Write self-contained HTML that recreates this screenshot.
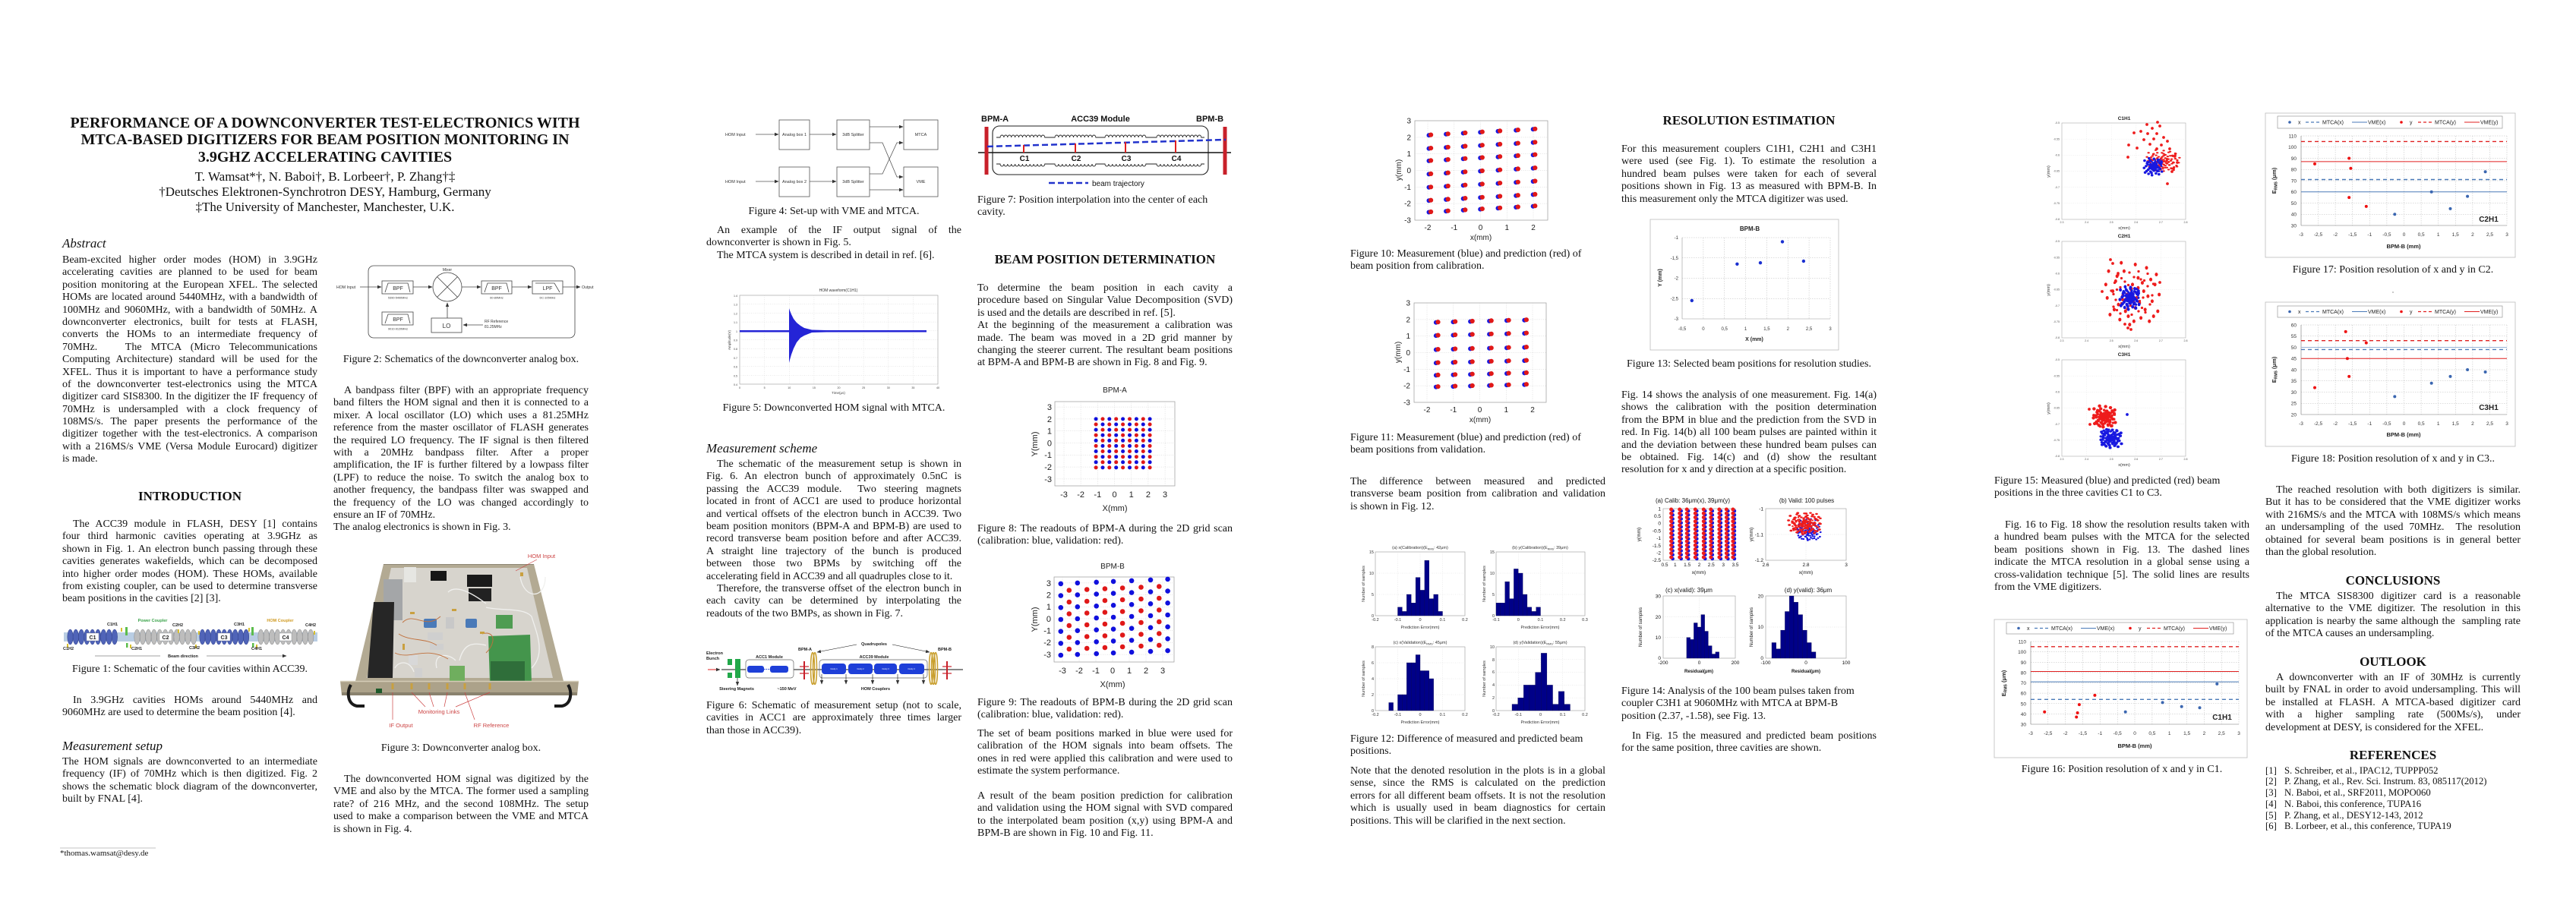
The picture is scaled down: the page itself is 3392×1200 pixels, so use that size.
<!DOCTYPE html>
<html><head><meta charset="utf-8">
<style>
html,body{margin:0;padding:0;background:#fff}
body{width:3392px;height:1200px;position:relative;overflow:hidden}
.pg{position:absolute;top:0;width:848px;height:1200px;overflow:hidden}
.pg>svg{position:absolute;left:0;top:0}
.t{position:absolute;width:336px;font-family:"Liberation Serif",serif;font-size:14px;line-height:16.4px;color:#111}
.t>div{height:16.4px;overflow:hidden;white-space:normal}
.j{text-align:justify;text-align-last:justify}
.i{text-indent:14px}
.c{text-align:center}
.h{position:absolute;width:336px;text-align:center;font:bold 17px/20px "Liberation Serif",serif;color:#111}
.s{position:absolute;font:italic 17px/20px "Liberation Serif",serif;color:#111}
svg text{font-family:"Liberation Sans",sans-serif}
</style></head><body>

<!-- ================= PAGE 1 ================= -->
<div class="pg" style="left:0">
<svg width="848" height="1200">
<defs><marker id="m1" markerWidth="6" markerHeight="6" refX="5" refY="3" orient="auto" markerUnits="userSpaceOnUse"><path d="M0,0.8 L5.5,3 L0,5.2z" fill="#333"/></marker></defs>
<!-- Fig 2 -->
<g fill="none" stroke="#444" stroke-width="0.8">
<rect x="485" y="350" width="272" height="95" rx="7"/>
<line x1="474" y1="378" x2="502" y2="378" marker-end="url(#m1)"/>
<rect x="503" y="370" width="41" height="17"/><path d="M507,385 L511,373 L537,373 L540,385"/>
<line x1="544" y1="378" x2="569" y2="378" marker-end="url(#m1)"/>
<circle cx="589" cy="378" r="19"/><path d="M575.6,364.6 L602.4,391.4 M602.4,364.6 L575.6,391.4"/>
<line x1="608" y1="378" x2="633" y2="378" marker-end="url(#m1)"/>
<rect x="634" y="370" width="40" height="17"/><path d="M638,385 L642,373 L667,373 L670,385"/>
<line x1="674" y1="378" x2="700" y2="378" marker-end="url(#m1)"/>
<rect x="701" y="370" width="40" height="17"/><path d="M705,373 L730,373 L737,385"/>
<line x1="741" y1="378" x2="764" y2="378" marker-end="url(#m1)"/>
<rect x="503" y="411" width="41" height="17"/><path d="M507,426 L511,414 L537,414 L540,426"/>
<rect x="568" y="419" width="40" height="19"/>
<line x1="589" y1="419" x2="589" y2="399" marker-end="url(#m1)"/>
<line x1="636" y1="428" x2="610" y2="428" marker-end="url(#m1)"/>
</g>
<g fill="#333">
<text x="443" y="380" font-size="5.2">HOM Input</text>
<text x="524" y="382" font-size="7" text-anchor="middle">BPF</text>
<text x="524" y="393.5" font-size="3.8" text-anchor="middle">5390-5490MHz</text>
<text x="589" y="357" font-size="5" text-anchor="middle">Mixer</text>
<text x="654" y="382" font-size="7" text-anchor="middle">BPF</text>
<text x="654" y="393.5" font-size="3.8" text-anchor="middle">60-80MHz</text>
<text x="721" y="382" font-size="7" text-anchor="middle">LPF</text>
<text x="721" y="393.5" font-size="3.8" text-anchor="middle">DC-105MHz</text>
<text x="766" y="380" font-size="5.2">Output</text>
<text x="524" y="423" font-size="7" text-anchor="middle">BPF</text>
<text x="524" y="434.5" font-size="3.8" text-anchor="middle">9010-9120MHz</text>
<text x="588" y="432" font-size="8" text-anchor="middle">LO</text>
<text x="638" y="425" font-size="5">RF Reference</text>
<text x="638" y="432" font-size="5">81.25MHz</text>
</g>
<!-- Fig 1 -->
<rect x="84" y="833" width="334" height="12" fill="#b9cde3"/>
<g fill="#5064b8" stroke="#31418c" stroke-width="0.5">
<ellipse cx="92.5" cy="839" rx="3.7" ry="10"/><ellipse cx="99.8" cy="839" rx="3.7" ry="10"/><ellipse cx="107.1" cy="839" rx="3.7" ry="10"/><ellipse cx="114.4" cy="839" rx="3.7" ry="10"/><ellipse cx="121.7" cy="839" rx="3.7" ry="10"/><ellipse cx="129" cy="839" rx="3.7" ry="10"/><ellipse cx="136.3" cy="839" rx="3.7" ry="10"/><ellipse cx="143.6" cy="839" rx="3.7" ry="10"/><ellipse cx="150.9" cy="839" rx="3.7" ry="10"/>
<ellipse cx="266.5" cy="839" rx="3.7" ry="10"/><ellipse cx="273.7" cy="839" rx="3.7" ry="10"/><ellipse cx="280.9" cy="839" rx="3.7" ry="10"/><ellipse cx="288.1" cy="839" rx="3.7" ry="10"/><ellipse cx="295.3" cy="839" rx="3.7" ry="10"/><ellipse cx="302.5" cy="839" rx="3.7" ry="10"/><ellipse cx="309.7" cy="839" rx="3.7" ry="10"/><ellipse cx="316.9" cy="839" rx="3.7" ry="10"/><ellipse cx="324.1" cy="839" rx="3.7" ry="10"/>
</g>
<g fill="#bdbdbd" stroke="#8a8a8a" stroke-width="0.5">
<ellipse cx="180.5" cy="839" rx="3.7" ry="10"/><ellipse cx="187.9" cy="839" rx="3.7" ry="10"/><ellipse cx="195.4" cy="839" rx="3.7" ry="10"/><ellipse cx="202.8" cy="839" rx="3.7" ry="10"/><ellipse cx="210.3" cy="839" rx="3.7" ry="10"/><ellipse cx="217.7" cy="839" rx="3.7" ry="10"/><ellipse cx="225.2" cy="839" rx="3.7" ry="10"/><ellipse cx="232.6" cy="839" rx="3.7" ry="10"/><ellipse cx="240.1" cy="839" rx="3.7" ry="10"/><ellipse cx="247.5" cy="839" rx="3.7" ry="10"/><ellipse cx="255" cy="839" rx="3.7" ry="10"/>
<ellipse cx="343.5" cy="839" rx="3.7" ry="10"/><ellipse cx="350.8" cy="839" rx="3.7" ry="10"/><ellipse cx="358.1" cy="839" rx="3.7" ry="10"/><ellipse cx="365.4" cy="839" rx="3.7" ry="10"/><ellipse cx="372.7" cy="839" rx="3.7" ry="10"/><ellipse cx="380" cy="839" rx="3.7" ry="10"/><ellipse cx="387.3" cy="839" rx="3.7" ry="10"/><ellipse cx="394.6" cy="839" rx="3.7" ry="10"/><ellipse cx="401.9" cy="839" rx="3.7" ry="10"/><ellipse cx="409.2" cy="839" rx="3.7" ry="10"/>
</g>
<g fill="#fff" stroke="#777" stroke-width="0.3">
<rect x="114" y="834" width="16" height="10"/><rect x="210" y="834" width="16" height="10"/><rect x="287" y="834" width="16" height="10"/><rect x="368" y="834" width="16" height="10"/>
</g>
<g font-weight="bold" font-size="7" text-anchor="middle" fill="#222">
<text x="122" y="842" font-family="Liberation Serif">C1</text><text x="218" y="842" font-family="Liberation Serif">C2</text><text x="295" y="842" font-family="Liberation Serif">C3</text><text x="376" y="842" font-family="Liberation Serif">C4</text>
</g>
<g fill="#5cbd4c"><rect x="165" y="826" width="3" height="11"/><rect x="166" y="847" width="2.5" height="6"/><rect x="331" y="826" width="3" height="11"/><rect x="332" y="847" width="2.5" height="6"/></g>
<g fill="#d8c030"><rect x="159" y="827" width="2" height="5"/><rect x="171" y="849" width="2" height="5"/><rect x="261" y="831" width="2" height="5"/><rect x="257" y="849" width="2" height="5"/><rect x="327" y="827" width="2" height="5"/><rect x="337" y="849" width="2" height="5"/><rect x="413" y="831" width="2" height="5"/><rect x="88" y="848" width="2" height="5"/><rect x="234" y="829" width="2" height="5"/></g>
<g font-size="5.5" font-weight="bold" text-anchor="middle" fill="#222">
<text x="148" y="824" font-family="Liberation Serif">C1H1</text>
<text x="201" y="819" font-family="Liberation Serif" fill="#3ba34a">Power Coupler</text>
<text x="234" y="825" font-family="Liberation Serif">C2H2</text>
<text x="315" y="824" font-family="Liberation Serif">C3H1</text>
<text x="369" y="819" font-family="Liberation Serif" fill="#d09a20">HOM Coupler</text>
<text x="409" y="825" font-family="Liberation Serif">C4H2</text>
<text x="90" y="856" font-family="Liberation Serif">C1H2</text>
<text x="180" y="856" font-family="Liberation Serif">C2H1</text>
<text x="256" y="855" font-family="Liberation Serif">C3H2</text>
<text x="338" y="856" font-family="Liberation Serif">C4H1</text>
<text x="241" y="866" font-family="Liberation Serif">Beam direction</text>
</g>
<line x1="125" y1="864" x2="211" y2="864" stroke="#444" stroke-width="0.6"/>
<line x1="272" y1="864" x2="377" y2="864" stroke="#444" stroke-width="0.6" marker-end="url(#m1)"/>
<!-- Fig 3 photo -->
<polygon points="505,743 703,743 742,897 468,897" fill="#b3aa93"/>
<polygon points="515,748 694,748 728,893 483,893" fill="#d7d4cd"/>
<line x1="505" y1="743.5" x2="703" y2="743.5" stroke="#8d8673" stroke-width="1"/>
<rect x="505" y="763" width="25" height="54" fill="#a4a6a8"/>
<polygon points="492,793 519,793 517,893 484,893" fill="#262626"/>
<rect x="532" y="747" width="16" height="20" fill="#e6e6e2"/>
<rect x="567" y="752" width="21" height="13" fill="#161616"/>
<rect x="615" y="757" width="33" height="16" fill="#1a1a1a"/>
<rect x="617" y="775" width="30" height="17" fill="#222"/>
<rect x="558" y="815" width="17" height="12" rx="2" fill="#4a7ab8"/>
<rect x="613" y="815" width="15" height="12" rx="2" fill="#4a7ab8"/>
<rect x="587" y="813" width="11" height="15" fill="#c8c8c8"/>
<rect x="563" y="833" width="20" height="10" fill="#cfcfcf"/>
<rect x="566" y="848" width="18" height="8" fill="#cfcfcf"/>
<rect x="538" y="862" width="12" height="14" fill="#d8d8d8"/>
<rect x="546" y="880" width="10" height="12" fill="#d0d0d0"/>
<polygon points="643,838 698,836 700,900 645,900" fill="#44954c"/>
<rect x="646" y="871" width="45" height="27" fill="#2f6e3a"/>
<rect x="653" y="810" width="22" height="18" fill="#4f9c52"/>
<rect x="592" y="877" width="20" height="20" fill="#6fae5e"/>
<g fill="none" stroke="#f0f0ee" stroke-width="1.3">
<path d="M685,760 C690,790 718,790 718,760"/>
<path d="M590,780 C600,770 620,780 640,795"/>
<path d="M640,800 C660,805 690,800 700,812 C705,830 720,860 700,880"/>
<path d="M520,880 C525,870 540,870 545,885"/>
<path d="M575,880 C570,860 590,860 600,870"/>
<path d="M605,870 C610,850 620,845 640,850"/>
</g>
<g fill="none" stroke="#c0703c" stroke-width="0.9">
<path d="M530,820 C545,805 560,830 580,812"/>
<path d="M520,860 C540,870 560,850 590,868"/>
<path d="M525,835 C540,845 560,840 575,850"/>
<path d="M635,835 C650,830 655,845 640,860"/>
</g>
<g fill="#c9a040"><rect x="540" y="806" width="6" height="3"/><rect x="595" y="802" width="6" height="3"/><rect x="632" y="832" width="6" height="3"/><rect x="530" y="848" width="3" height="8"/><rect x="685" y="754" width="4" height="5"/></g>
<polygon points="448,897 762,897 760,916 450,916" fill="#aca28a"/>
<line x1="448" y1="897.5" x2="762" y2="897.5" stroke="#d4ccb6" stroke-width="1.5"/>
<rect x="450" y="912" width="310" height="4" fill="#8a826e"/>
<g fill="#c9a040"><rect x="515.5" y="900" width="3" height="8"/><rect x="540.5" y="900" width="3" height="8"/><rect x="563.5" y="900" width="3" height="8"/><rect x="587.5" y="900" width="3" height="8"/><rect x="610.5" y="900" width="3" height="8"/><rect x="643.5" y="900" width="3" height="8"/></g>
<rect x="495" y="907" width="8" height="6" fill="#1d5a2a"/>
<path d="M462,902 C456,912 458,928 470,930 L480,930" stroke="#1a1a1a" stroke-width="4" fill="none"/>
<path d="M748,902 C754,912 752,928 740,930 L730,930" stroke="#1a1a1a" stroke-width="4" fill="none"/>
<g stroke="#c44" stroke-width="0.7">
<line x1="707" y1="737" x2="679" y2="752"/>
<line x1="542" y1="912" x2="560" y2="931"/><line x1="565" y1="912" x2="571" y2="931"/><line x1="589" y1="912" x2="585" y2="931"/><line x1="645" y1="912" x2="600" y2="931"/>
<line x1="517" y1="912" x2="517" y2="948"/><line x1="612" y1="912" x2="625" y2="948"/>
</g>
<g fill="#c44" font-size="7.5">
<text x="713" y="735" text-anchor="middle">HOM Input</text>
<text x="578" y="940" text-anchor="middle">Monitoring Links</text>
<text x="528" y="958" text-anchor="middle">IF Output</text>
<text x="647" y="958" text-anchor="middle">RF Reference</text>
</g>
<line x1="79" y1="1117" x2="205" y2="1117" stroke="#888" stroke-width="0.6"/>
</svg>

<div style="position:absolute;left:0;top:150.5px;width:856px;text-align:center;font:bold 20px/22.5px 'Liberation Serif',serif;color:#111">PERFORMANCE OF A DOWNCONVERTER TEST-ELECTRONICS WITH<br>MTCA-BASED DIGITIZERS FOR BEAM POSITION MONITORING IN<br>3.9GHZ ACCELERATING CAVITIES</div>
<div style="position:absolute;left:0;top:223px;width:856px;text-align:center;font:17px/20px 'Liberation Serif',serif;color:#111">T. Wamsat*†, N. Baboi†, B. Lorbeer†, P. Zhang†‡<br>†Deutsches Elektronen-Synchrotron DESY, Hamburg, Germany<br>‡The University of Manchester, Manchester, U.K.</div>

<div class="s" style="left:82px;top:311px">Abstract</div>
<div class="t" style="left:82px;top:335px">
<div class="j">Beam-excited higher order modes (HOM) in 3.9GHz</div>
<div class="j">accelerating cavities are planned to be used for beam</div>
<div class="j">position monitoring at the European XFEL. The selected</div>
<div class="j">HOMs are located around 5440MHz, with a bandwidth of</div>
<div class="j">100MHz and 9060MHz, with a bandwidth of 50MHz. A</div>
<div class="j">downconverter electronics, built for tests at FLASH,</div>
<div class="j">converts the HOMs to an intermediate frequency of</div>
<div class="j">70MHz.&nbsp;&nbsp; The MTCA (Micro Telecommunications</div>
<div class="j">Computing Architecture) standard will be used for the</div>
<div class="j">XFEL. Thus it is important to have a performance study</div>
<div class="j">of the downconverter test-electronics using the MTCA</div>
<div class="j">digitizer card SIS8300. In the digitizer the IF frequency of</div>
<div class="j">70MHz is undersampled with a clock frequency of</div>
<div class="j">108MS/s. The paper presents the performance of the</div>
<div class="j">digitizer together with the test-electronics. A comparison</div>
<div class="j">with a 216MS/s VME (Versa Module Eurocard) digitizer</div>
<div>is made.</div>
</div>
<div class="h" style="left:82px;top:644px">INTRODUCTION</div>
<div class="t" style="left:82px;top:683px">
<div class="j i">The ACC39 module in FLASH, DESY [1] contains</div>
<div class="j">four third harmonic cavities operating at 3.9GHz as</div>
<div class="j">shown in Fig. 1. An electron bunch passing through these</div>
<div class="j">cavities generates wakefields, which can be decomposed</div>
<div class="j">into higher order modes (HOM). These HOMs, available</div>
<div class="j">from existing coupler, can be used to determine transverse</div>
<div>beam positions in the cavities [2] [3].</div>
</div>
<div class="t c" style="left:82px;top:874px"><div>Figure 1: Schematic of the four cavities within ACC39.</div></div>
<div class="t" style="left:82px;top:915px">
<div class="j i">In 3.9GHz cavities HOMs around 5440MHz and</div>
<div>9060MHz are used to determine the beam position [4].</div>
</div>
<div class="s" style="left:82px;top:973px">Measurement setup</div>
<div class="t" style="left:82px;top:996px">
<div class="j">The HOM signals are downconverted to an intermediate</div>
<div class="j">frequency (IF) of 70MHz which is then digitized. Fig. 2</div>
<div class="j">shows the schematic block diagram of the downconverter,</div>
<div>built by FNAL [4].</div>
</div>
<div style="position:absolute;left:79px;top:1117px;font:11px/14px 'Liberation Serif',serif;color:#111">*thomas.wamsat@desy.de</div>

<div class="t c" style="left:439px;top:466px"><div>Figure 2: Schematics of the downconverter analog box.</div></div>
<div class="t" style="left:439px;top:507px">
<div class="j i">A bandpass filter (BPF) with an appropriate frequency</div>
<div class="j">band filters the HOM signal and then it is connected to a</div>
<div class="j">mixer. A local oscillator (LO) which uses a 81.25MHz</div>
<div class="j">reference from the master oscillator of FLASH generates</div>
<div class="j">the required LO frequency. The IF signal is then filtered</div>
<div class="j">with a 20MHz bandpass filter. After a proper</div>
<div class="j">amplification, the IF is further filtered by a lowpass filter</div>
<div class="j">(LPF) to reduce the noise. To switch the analog box to</div>
<div class="j">another frequency, the bandpass filter was swapped and</div>
<div class="j">the frequency of the LO was changed accordingly to</div>
<div>ensure an IF of 70MHz.</div>
<div>The analog electronics is shown in Fig. 3.</div>
</div>
<div class="t c" style="left:439px;top:978px"><div>Figure 3: Downconverter analog box.</div></div>
<div class="t" style="left:439px;top:1019px">
<div class="j i">The downconverted HOM signal was digitized by the</div>
<div class="j">VME and also by the MTCA. The former used a sampling</div>
<div class="j">rate? of 216 MHz, and the second 108MHz. The setup</div>
<div class="j">used to make a comparison between the VME and MTCA</div>
<div>is shown in Fig. 4.</div>
</div>
</div>

<!-- ================= PAGE 2 ================= -->
<div class="pg" style="left:848px">
<svg width="848" height="1200">
<defs><marker id="m2" markerWidth="6" markerHeight="6" refX="5" refY="3" orient="auto" markerUnits="userSpaceOnUse"><path d="M0,0.8 L5.5,3 L0,5.2z" fill="#333"/></marker></defs>
<!-- Fig 4 -->
<g fill="none" stroke="#555" stroke-width="0.8">
<rect x="178" y="158" width="40" height="39"/><rect x="254" y="158" width="43" height="39"/><rect x="342" y="158" width="45" height="39"/>
<rect x="178" y="220" width="40" height="39"/><rect x="254" y="220" width="43" height="39"/><rect x="342" y="220" width="45" height="39"/>
<line x1="147" y1="177" x2="177" y2="177" marker-end="url(#m2)"/>
<line x1="147" y1="239" x2="177" y2="239" marker-end="url(#m2)"/>
<line x1="218" y1="177" x2="253" y2="177" marker-end="url(#m2)"/>
<line x1="218" y1="239" x2="253" y2="239" marker-end="url(#m2)"/>
<line x1="297" y1="167" x2="341" y2="167" marker-end="url(#m2)"/>
<polyline points="297,188 314,188 333,233 341,233" marker-end="url(#m2)"/>
<polyline points="297,229 314,229 333,188 341,188" marker-end="url(#m2)"/>
<line x1="297" y1="250" x2="341" y2="250" marker-end="url(#m2)"/>
</g>
<g font-size="5.5" fill="#333">
<text x="107" y="179">HOM Input</text><text x="107" y="241">HOM Input</text>
<text x="198" y="179" text-anchor="middle">Analog box 1</text><text x="198" y="241" text-anchor="middle">Analog box 2</text>
<text x="275.5" y="179" text-anchor="middle">3dB Splitter</text><text x="275.5" y="241" text-anchor="middle">3dB Splitter</text>
<text x="364.5" y="179" text-anchor="middle">MTCA</text><text x="364.5" y="241" text-anchor="middle">VME</text>
</g>
<!-- Fig 5 -->
<text x="256" y="384" font-size="5" text-anchor="middle" fill="#333">HOM waveform(C1H1)</text>
<rect x="126" y="389" width="261" height="117" fill="#fff" stroke="#999" stroke-width="0.6"/>
<g stroke="#ccc" stroke-width="0.4" stroke-dasharray="1,1.5">
<line x1="158.6" y1="389" x2="158.6" y2="506"/><line x1="191.3" y1="389" x2="191.3" y2="506"/><line x1="223.9" y1="389" x2="223.9" y2="506"/><line x1="256.5" y1="389" x2="256.5" y2="506"/><line x1="289.1" y1="389" x2="289.1" y2="506"/><line x1="321.8" y1="389" x2="321.8" y2="506"/><line x1="354.4" y1="389" x2="354.4" y2="506"/>
<line x1="126" y1="400.7" x2="387" y2="400.7"/><line x1="126" y1="412.4" x2="387" y2="412.4"/><line x1="126" y1="424.1" x2="387" y2="424.1"/><line x1="126" y1="435.8" x2="387" y2="435.8"/><line x1="126" y1="447.5" x2="387" y2="447.5"/><line x1="126" y1="459.2" x2="387" y2="459.2"/><line x1="126" y1="470.9" x2="387" y2="470.9"/><line x1="126" y1="482.6" x2="387" y2="482.6"/><line x1="126" y1="494.3" x2="387" y2="494.3"/>
</g>
<polygon points="126,435 191,435 191,406 192,409 194,414 197,420 201,425 206,429 211,432 221,434.5 240,435 372,435 372,437.5 240,437.5 221,438 211,442 206,445 201,451 197,459 194,467 192,474 191,478 191,437.5 126,437.5" fill="#2424d6"/>
<g font-size="3.6" fill="#444" text-anchor="end">
<text x="123" y="391">1.4</text><text x="123" y="402.7">1.3</text><text x="123" y="414.4">1.2</text><text x="123" y="426.1">1.1</text><text x="123" y="437.8">1</text><text x="123" y="449.5">0.9</text><text x="123" y="461.2">0.8</text><text x="123" y="472.9">0.7</text><text x="123" y="484.6">0.6</text><text x="123" y="496.3">0.5</text><text x="123" y="508">0.4</text>
</g>
<g font-size="3.6" fill="#444" text-anchor="middle">
<text x="126" y="512">0</text><text x="158.6" y="512">5</text><text x="191.3" y="512">10</text><text x="223.9" y="512">15</text><text x="256.5" y="512">20</text><text x="289.1" y="512">25</text><text x="321.8" y="512">30</text><text x="354.4" y="512">35</text><text x="387" y="512">40</text>
<text x="256" y="519" font-size="4.5">Time(μs)</text>
</g>
<text transform="translate(114,448) rotate(-90)" font-size="4.5" fill="#444" text-anchor="middle">Amplitude(V)</text>
<!-- Fig 6 -->
<line x1="102" y1="882" x2="420" y2="882" stroke="#111" stroke-width="1"/>
<line x1="84" y1="882" x2="100" y2="882" stroke="#e02020" stroke-width="1" marker-end="url(#m2)"/>
<g fill="#22a84a"><rect x="110" y="868" width="6" height="8"/><rect x="110" y="886" width="6" height="7"/><rect x="120" y="868" width="7" height="25"/></g>
<line x1="123" y1="893" x2="123" y2="903" stroke="#111" stroke-width="0.7" marker-end="url(#m2)"/>
<rect x="134" y="869" width="63" height="24" rx="4" fill="#fff" stroke="#666" stroke-width="0.7"/>
<g fill="#1e3fd8"><rect x="136" y="877" width="22" height="9" rx="3"/><rect x="166" y="877" width="24" height="9" rx="3"/>
<rect x="234" y="874" width="32" height="14" rx="4"/><rect x="269" y="874" width="32" height="14" rx="4"/><rect x="303" y="874" width="30" height="14" rx="4"/><rect x="336" y="874" width="33" height="14" rx="4"/></g>
<line x1="158" y1="881.5" x2="166" y2="881.5" stroke="#1e3fd8" stroke-dasharray="1.5,1"/>
<rect x="231" y="869" width="142" height="24" rx="4" fill="none" stroke="#666" stroke-width="0.7"/>
<g stroke="#c8202a" stroke-width="2"><line x1="211" y1="871" x2="211" y2="895"/><line x1="399" y1="871" x2="399" y2="895"/></g>
<g stroke="#c8202a" stroke-width="1.2"><line x1="205" y1="878" x2="217" y2="878"/><line x1="205" y1="887" x2="217" y2="887"/><line x1="393" y1="878" x2="405" y2="878"/><line x1="393" y1="887" x2="405" y2="887"/></g>
<g fill="none" stroke="#c9a030" stroke-width="1.5"><ellipse cx="222" cy="880.5" rx="2.5" ry="21"/><ellipse cx="225" cy="880.5" rx="2.5" ry="21"/><ellipse cx="378" cy="880.5" rx="2.5" ry="21"/><ellipse cx="381" cy="880.5" rx="2.5" ry="21"/><ellipse cx="384" cy="880.5" rx="2.5" ry="21"/></g>
<g stroke="#111" stroke-width="0.6"><line x1="234" y1="888" x2="234" y2="901" marker-end="url(#m2)"/><line x1="266" y1="888" x2="266" y2="901" marker-end="url(#m2)"/><line x1="301" y1="888" x2="301" y2="901" marker-end="url(#m2)"/><line x1="334" y1="888" x2="334" y2="901" marker-end="url(#m2)"/><line x1="368" y1="888" x2="368" y2="901" marker-end="url(#m2)"/>
<line x1="280" y1="849" x2="228" y2="859" marker-end="url(#m2)"/><line x1="327" y1="849" x2="376" y2="859" marker-end="url(#m2)"/></g>
<g font-size="5.5" font-weight="bold" fill="#222">
<text x="82" y="862">Electron</text><text x="82" y="869">Bunch</text>
<text x="165" y="867" text-anchor="middle">ACC1 Module</text>
<text x="212" y="857" text-anchor="middle">BPM-A</text>
<text x="303" y="867" text-anchor="middle">ACC39 Module</text>
<text x="303" y="850" text-anchor="middle">Quadrupoles</text>
<text x="396" y="857" text-anchor="middle">BPM-B</text>
<text x="122" y="909" text-anchor="middle">Steering Magnets</text>
<text x="188" y="909" text-anchor="middle">~150 MeV</text>
<text x="305" y="909" text-anchor="middle">HOM Couplers</text>
</g>
<g font-size="2.6" fill="#fff" text-anchor="middle"><text x="250" y="882">Cavity 1</text><text x="285" y="882">Cavity 2</text><text x="318" y="882">Cavity 3</text><text x="352" y="882">Cavity 4</text></g>
<!-- Fig 7 -->
<g font-size="11" font-weight="bold" fill="#111">
<text x="444" y="160">BPM-A</text><text x="601" y="160" text-anchor="middle">ACC39 Module</text><text x="727" y="160">BPM-B</text>
</g>
<rect x="459" y="166" width="284" height="64" rx="9" fill="none" stroke="#222" stroke-width="1.1"/>
<line x1="440" y1="201" x2="773" y2="201" stroke="#111" stroke-width="1.5"/>
<g fill="#c8202a"><rect x="448.5" y="167" width="5" height="63"/><rect x="762.5" y="167" width="5" height="63"/></g>
<path fill="none" stroke="#222" stroke-width="0.9" d="M464,181 L469,181 a2.45,3 0 0 1 4.9,0 a2.45,3 0 0 1 4.9,0 a2.45,3 0 0 1 4.9,0 a2.45,3 0 0 1 4.9,0 a2.45,3 0 0 1 4.9,0 a2.45,3 0 0 1 4.9,0 a2.45,3 0 0 1 4.9,0 a2.45,3 0 0 1 4.9,0 a2.45,3 0 0 1 4.9,0 a2.45,3 0 0 1 4.9,0 a2.45,3 0 0 1 4.9,0 a2.45,3 0 0 1 4.9,0 L541,181 a2.45,3 0 0 1 4.9,0 a2.45,3 0 0 1 4.9,0 a2.45,3 0 0 1 4.9,0 a2.45,3 0 0 1 4.9,0 a2.45,3 0 0 1 4.9,0 a2.45,3 0 0 1 4.9,0 a2.45,3 0 0 1 4.9,0 a2.45,3 0 0 1 4.9,0 a2.45,3 0 0 1 4.9,0 a2.45,3 0 0 1 4.9,0 a2.45,3 0 0 1 4.9,0 L607,181 a2.45,3 0 0 1 4.9,0 a2.45,3 0 0 1 4.9,0 a2.45,3 0 0 1 4.9,0 a2.45,3 0 0 1 4.9,0 a2.45,3 0 0 1 4.9,0 a2.45,3 0 0 1 4.9,0 a2.45,3 0 0 1 4.9,0 a2.45,3 0 0 1 4.9,0 a2.45,3 0 0 1 4.9,0 a2.45,3 0 0 1 4.9,0 a2.45,3 0 0 1 4.9,0 L675,181 a2.45,3 0 0 1 4.9,0 a2.45,3 0 0 1 4.9,0 a2.45,3 0 0 1 4.9,0 a2.45,3 0 0 1 4.9,0 a2.45,3 0 0 1 4.9,0 a2.45,3 0 0 1 4.9,0 a2.45,3 0 0 1 4.9,0 a2.45,3 0 0 1 4.9,0 a2.45,3 0 0 1 4.9,0 a2.45,3 0 0 1 4.9,0 a2.45,3 0 0 1 4.9,0 a2.45,3 0 0 1 4.9,0 L738,181"/>
<path fill="none" stroke="#222" stroke-width="0.9" d="M464,216 L469,216 a2.45,3 0 0 0 4.9,0 a2.45,3 0 0 0 4.9,0 a2.45,3 0 0 0 4.9,0 a2.45,3 0 0 0 4.9,0 a2.45,3 0 0 0 4.9,0 a2.45,3 0 0 0 4.9,0 a2.45,3 0 0 0 4.9,0 a2.45,3 0 0 0 4.9,0 a2.45,3 0 0 0 4.9,0 a2.45,3 0 0 0 4.9,0 a2.45,3 0 0 0 4.9,0 a2.45,3 0 0 0 4.9,0 L541,216 a2.45,3 0 0 0 4.9,0 a2.45,3 0 0 0 4.9,0 a2.45,3 0 0 0 4.9,0 a2.45,3 0 0 0 4.9,0 a2.45,3 0 0 0 4.9,0 a2.45,3 0 0 0 4.9,0 a2.45,3 0 0 0 4.9,0 a2.45,3 0 0 0 4.9,0 a2.45,3 0 0 0 4.9,0 a2.45,3 0 0 0 4.9,0 a2.45,3 0 0 0 4.9,0 L607,216 a2.45,3 0 0 0 4.9,0 a2.45,3 0 0 0 4.9,0 a2.45,3 0 0 0 4.9,0 a2.45,3 0 0 0 4.9,0 a2.45,3 0 0 0 4.9,0 a2.45,3 0 0 0 4.9,0 a2.45,3 0 0 0 4.9,0 a2.45,3 0 0 0 4.9,0 a2.45,3 0 0 0 4.9,0 a2.45,3 0 0 0 4.9,0 a2.45,3 0 0 0 4.9,0 L675,216 a2.45,3 0 0 0 4.9,0 a2.45,3 0 0 0 4.9,0 a2.45,3 0 0 0 4.9,0 a2.45,3 0 0 0 4.9,0 a2.45,3 0 0 0 4.9,0 a2.45,3 0 0 0 4.9,0 a2.45,3 0 0 0 4.9,0 a2.45,3 0 0 0 4.9,0 a2.45,3 0 0 0 4.9,0 a2.45,3 0 0 0 4.9,0 a2.45,3 0 0 0 4.9,0 a2.45,3 0 0 0 4.9,0 L738,216"/>
<line x1="452" y1="193" x2="766" y2="184" stroke="#2233cc" stroke-width="2.5" stroke-dasharray="8,4"/>
<g stroke="#e02020" stroke-width="2"><line x1="500" y1="191" x2="500" y2="201"/><line x1="568" y1="189" x2="568" y2="201"/><line x1="634" y1="187" x2="634" y2="201"/><line x1="700" y1="185" x2="700" y2="201"/></g>
<g font-size="10" font-weight="bold" fill="#111" text-anchor="middle"><text x="501" y="212">C1</text><text x="569" y="212">C2</text><text x="635" y="212">C3</text><text x="701" y="212">C4</text></g>
<line x1="533" y1="241" x2="585" y2="241" stroke="#2233cc" stroke-width="2.5" stroke-dasharray="8,4"/>
<text x="590" y="245" font-size="10" fill="#111">beam trajectory</text>
<!-- Fig 8 -->
<defs>
<g id="c8a"><circle cx="0" cy="551.9" r="2.5" fill="#1010dd"/><circle cx="0" cy="559" r="2.5" fill="#e01818"/><circle cx="0" cy="566.1" r="2.5" fill="#1010dd"/><circle cx="0" cy="573.2" r="2.5" fill="#e01818"/><circle cx="0" cy="580.3" r="2.5" fill="#1010dd"/><circle cx="0" cy="587.4" r="2.5" fill="#e01818"/><circle cx="0" cy="594.5" r="2.5" fill="#1010dd"/><circle cx="0" cy="601.7" r="2.5" fill="#e01818"/><circle cx="0" cy="608.8" r="2.5" fill="#1010dd"/><circle cx="0" cy="615.9" r="2.5" fill="#e01818"/></g>
<g id="c8b"><circle cx="0" cy="551.9" r="2.5" fill="#e01818"/><circle cx="0" cy="559" r="2.5" fill="#1010dd"/><circle cx="0" cy="566.1" r="2.5" fill="#e01818"/><circle cx="0" cy="573.2" r="2.5" fill="#1010dd"/><circle cx="0" cy="580.3" r="2.5" fill="#e01818"/><circle cx="0" cy="587.4" r="2.5" fill="#1010dd"/><circle cx="0" cy="594.5" r="2.5" fill="#e01818"/><circle cx="0" cy="601.7" r="2.5" fill="#1010dd"/><circle cx="0" cy="608.8" r="2.5" fill="#e01818"/><circle cx="0" cy="615.9" r="2.5" fill="#1010dd"/></g>
<g id="c9b"><circle cx="0" cy="767.9" r="3.3" fill="#1010dd"/><circle cx="0" cy="783.6" r="3.3" fill="#1010dd"/><circle cx="0" cy="799.3" r="3.3" fill="#1010dd"/><circle cx="0" cy="815" r="3.3" fill="#1010dd"/><circle cx="0" cy="830.7" r="3.3" fill="#1010dd"/><circle cx="0" cy="846.4" r="3.3" fill="#1010dd"/><circle cx="0" cy="862.1" r="3.3" fill="#1010dd"/></g>
<g id="c9r"><circle cx="0" cy="776.5" r="3.3" fill="#e01818"/><circle cx="0" cy="792" r="3.3" fill="#e01818"/><circle cx="0" cy="807.5" r="3.3" fill="#e01818"/><circle cx="0" cy="823" r="3.3" fill="#e01818"/><circle cx="0" cy="838.5" r="3.3" fill="#e01818"/><circle cx="0" cy="854" r="3.3" fill="#e01818"/></g>
</defs>
<text x="620" y="517" font-size="10" fill="#222" text-anchor="middle">BPM-A</text>
<rect x="541" y="529" width="158" height="111" fill="#fff" stroke="#999" stroke-width="0.7"/>
<g stroke="#ccc" stroke-width="0.5" stroke-dasharray="1,1.5">
<line x1="553" y1="529" x2="553" y2="640"/><line x1="575.1" y1="529" x2="575.1" y2="640"/><line x1="597.3" y1="529" x2="597.3" y2="640"/><line x1="619.5" y1="529" x2="619.5" y2="640"/><line x1="641.7" y1="529" x2="641.7" y2="640"/><line x1="663.9" y1="529" x2="663.9" y2="640"/><line x1="686.1" y1="529" x2="686.1" y2="640"/>
<line x1="541" y1="536.1" x2="699" y2="536.1"/><line x1="541" y1="551.9" x2="699" y2="551.9"/><line x1="541" y1="567.7" x2="699" y2="567.7"/><line x1="541" y1="583.5" x2="699" y2="583.5"/><line x1="541" y1="599.3" x2="699" y2="599.3"/><line x1="541" y1="615.1" x2="699" y2="615.1"/><line x1="541" y1="630.9" x2="699" y2="630.9"/>
</g>
<use href="#c8a" x="595.1"/><use href="#c8b" x="604"/><use href="#c8a" x="612.8"/><use href="#c8b" x="621.7"/><use href="#c8a" x="630.6"/><use href="#c8b" x="639.5"/><use href="#c8a" x="648.4"/><use href="#c8b" x="657.3"/><use href="#c8a" x="666.1"/>
<g font-size="11" fill="#222" text-anchor="end">
<text x="537" y="540">3</text><text x="537" y="556">2</text><text x="537" y="571.5">1</text><text x="537" y="587.5">0</text><text x="537" y="603">-1</text><text x="537" y="619">-2</text><text x="537" y="635">-3</text>
</g>
<g font-size="11" fill="#222" text-anchor="middle">
<text x="553" y="655">-3</text><text x="575.1" y="655">-2</text><text x="597.3" y="655">-1</text><text x="619.5" y="655">0</text><text x="641.7" y="655">1</text><text x="663.9" y="655">2</text><text x="686.1" y="655">3</text>
<text x="620" y="673">X(mm)</text>
</g>
<text transform="translate(518,585) rotate(-90)" font-size="11" fill="#222" text-anchor="middle">Y(mm)</text>
<!-- Fig 9 -->
<text x="617" y="749" font-size="10" fill="#222" text-anchor="middle">BPM-B</text>
<rect x="540" y="760" width="158" height="112" fill="#fff" stroke="#999" stroke-width="0.7"/>
<g stroke="#ccc" stroke-width="0.5" stroke-dasharray="1,1.5">
<line x1="551" y1="760" x2="551" y2="872"/><line x1="573" y1="760" x2="573" y2="872"/><line x1="595" y1="760" x2="595" y2="872"/><line x1="617" y1="760" x2="617" y2="872"/><line x1="639" y1="760" x2="639" y2="872"/><line x1="661" y1="760" x2="661" y2="872"/><line x1="683" y1="760" x2="683" y2="872"/>
<line x1="540" y1="767.9" x2="698" y2="767.9"/><line x1="540" y1="783.6" x2="698" y2="783.6"/><line x1="540" y1="799.3" x2="698" y2="799.3"/><line x1="540" y1="815" x2="698" y2="815"/><line x1="540" y1="830.7" x2="698" y2="830.7"/><line x1="540" y1="846.4" x2="698" y2="846.4"/><line x1="540" y1="862.1" x2="698" y2="862.1"/>
</g>
<use href="#c9b" x="548.8" y="1"/><use href="#c9b" x="570.8"/><use href="#c9b" x="595.7" y="-1"/><use href="#c9b" x="618.1" y="-2"/><use href="#c9b" x="642.1" y="-3"/><use href="#c9b" x="667" y="-4"/><use href="#c9b" x="689.6" y="-5"/>
<use href="#c9r" x="559.8" y="1"/><use href="#c9r" x="583.2"/><use href="#c9r" x="606.9" y="-1"/><use href="#c9r" x="630.1" y="-2"/><use href="#c9r" x="654.5" y="-3"/><use href="#c9r" x="678.3" y="-4"/>
<g font-size="11" fill="#222" text-anchor="end">
<text x="536" y="772">3</text><text x="536" y="787.5">2</text><text x="536" y="803">1</text><text x="536" y="819">0</text><text x="536" y="834.5">-1</text><text x="536" y="850">-2</text><text x="536" y="866">-3</text>
</g>
<g font-size="11" fill="#222" text-anchor="middle">
<text x="551" y="887">-3</text><text x="573" y="887">-2</text><text x="595" y="887">-1</text><text x="617" y="887">0</text><text x="639" y="887">1</text><text x="661" y="887">2</text><text x="683" y="887">3</text>
<text x="617" y="905">X(mm)</text>
</g>
<text transform="translate(518,816) rotate(-90)" font-size="11" fill="#222" text-anchor="middle">Y(mm)</text>
</svg>

<div class="t c" style="left:82px;top:271px"><div>Figure 4: Set-up with VME and MTCA.</div></div>
<div class="t" style="left:82px;top:296px">
<div class="j i">An example of the IF output signal of the</div>
<div>downconverter is shown in Fig. 5.</div>
<div class="i">The MTCA system is described in detail in ref. [6].</div>
</div>
<div class="t c" style="left:82px;top:530px"><div>Figure 5: Downconverted HOM signal with MTCA.</div></div>
<div class="s" style="left:82px;top:581px">Measurement scheme</div>
<div class="t" style="left:82px;top:604px">
<div class="j i">The schematic of the measurement setup is shown in</div>
<div class="j">Fig. 6. An electron bunch of approximately 0.5nC is</div>
<div class="j">passing the ACC39 module.&nbsp; Two steering magnets</div>
<div class="j">located in front of ACC1 are used to produce horizontal</div>
<div class="j">and vertical offsets of the electron bunch in ACC39. Two</div>
<div class="j">beam position monitors (BPM-A and BPM-B) are used to</div>
<div class="j">record transverse beam position before and after ACC39.</div>
<div class="j">A straight line trajectory of the bunch is produced</div>
<div class="j">between those two BPMs by switching off the</div>
<div>accelerating field in ACC39 and all quadruples close to it.</div>
<div class="j i">Therefore, the transverse offset of the electron bunch in</div>
<div class="j">each cavity can be determined by interpolating the</div>
<div>readouts of the two BMPs, as shown in Fig. 7.</div>
</div>
<div class="t" style="left:82px;top:922px">
<div class="j">Figure 6: Schematic of measurement setup (not to scale,</div>
<div class="j">cavities in ACC1 are approximately three times larger</div>
<div>than those in ACC39).</div>
</div>

<div class="t" style="left:439px;top:256px">
<div>Figure 7: Position interpolation into the center of each</div>
<div>cavity.</div>
</div>
<div class="h" style="left:439px;top:332px">BEAM POSITION DETERMINATION</div>
<div class="t" style="left:439px;top:372px">
<div class="j">To determine the beam position in each cavity a</div>
<div class="j">procedure based on Singular Value Decomposition (SVD)</div>
<div>is used and the details are described in ref. [5].</div>
<div class="j">At the beginning of the measurement a calibration was</div>
<div class="j">made. The beam was moved in a 2D grid manner by</div>
<div class="j">changing the steerer current. The resultant beam positions</div>
<div>at BPM-A and BPM-B are shown in Fig. 8 and Fig. 9.</div>
</div>
<div class="t" style="left:439px;top:689px">
<div class="j">Figure 8: The readouts of BPM-A during the 2D grid scan</div>
<div>(calibration: blue, validation: red).</div>
</div>
<div class="t" style="left:439px;top:918px">
<div class="j">Figure 9: The readouts of BPM-B during the 2D grid scan</div>
<div>(calibration: blue, validation: red).</div>
</div>
<div class="t" style="left:439px;top:959px">
<div class="j">The set of beam positions marked in blue were used for</div>
<div class="j">calibration of the HOM signals into beam offsets. The</div>
<div class="j">ones in red were applied this calibration and were used to</div>
<div>estimate the system performance.</div>
</div>
<div class="t" style="left:439px;top:1041px">
<div class="j">A result of the beam position prediction for calibration</div>
<div class="j">and validation using the HOM signal with SVD compared</div>
<div class="j">to the interpolated beam position (x,y) using BPM-A and</div>
<div>BPM-B are shown in Fig. 10 and Fig. 11.</div>
</div>
</div>

<!-- ================= PAGE 3 ================= -->
<div class="pg" style="left:1696px">
<svg width="848" height="1200">
<defs>
<g id="c10"><circle cx="-2" cy="178.1" r="3" fill="#1818e0"/><circle cx="-2" cy="195.6" r="3" fill="#1818e0"/><circle cx="-2" cy="211.9" r="3" fill="#1818e0"/><circle cx="-2" cy="229.4" r="3" fill="#1818e0"/><circle cx="-2" cy="246.8" r="3" fill="#1818e0"/><circle cx="-2" cy="264.2" r="3" fill="#1818e0"/><circle cx="-2" cy="279.5" r="3" fill="#1818e0"/>
<circle cx="0.6" cy="177.6" r="3.1" fill="#e01818"/><circle cx="0.6" cy="195.1" r="3.1" fill="#e01818"/><circle cx="0.6" cy="211.4" r="3.1" fill="#e01818"/><circle cx="0.6" cy="228.9" r="3.1" fill="#e01818"/><circle cx="0.6" cy="246.3" r="3.1" fill="#e01818"/><circle cx="0.6" cy="263.7" r="3.1" fill="#e01818"/><circle cx="0.6" cy="279" r="3.1" fill="#e01818"/></g>
<g id="c11"><circle cx="-2" cy="424.7" r="3" fill="#1818e0"/><circle cx="-2" cy="442.1" r="3" fill="#1818e0"/><circle cx="-2" cy="460.6" r="3" fill="#1818e0"/><circle cx="-2" cy="478.1" r="3" fill="#1818e0"/><circle cx="-2" cy="494.4" r="3" fill="#1818e0"/><circle cx="-2" cy="509.7" r="3" fill="#1818e0"/>
<circle cx="0.6" cy="424.2" r="3.1" fill="#e01818"/><circle cx="0.6" cy="441.6" r="3.1" fill="#e01818"/><circle cx="0.6" cy="460.1" r="3.1" fill="#e01818"/><circle cx="0.6" cy="477.6" r="3.1" fill="#e01818"/><circle cx="0.6" cy="493.9" r="3.1" fill="#e01818"/><circle cx="0.6" cy="509.2" r="3.1" fill="#e01818"/></g>
<g id="c14"><circle cx="1.5" cy="673" r="2.3" fill="#1818e0"/><circle cx="1.5" cy="678.2" r="2.3" fill="#1818e0"/><circle cx="1.5" cy="683.5" r="2.3" fill="#1818e0"/><circle cx="1.5" cy="688.7" r="2.3" fill="#1818e0"/><circle cx="1.5" cy="694" r="2.3" fill="#1818e0"/><circle cx="1.5" cy="699.2" r="2.3" fill="#1818e0"/><circle cx="1.5" cy="704.5" r="2.3" fill="#1818e0"/><circle cx="1.5" cy="709.7" r="2.3" fill="#1818e0"/><circle cx="1.5" cy="715" r="2.3" fill="#1818e0"/><circle cx="1.5" cy="720.2" r="2.3" fill="#1818e0"/><circle cx="1.5" cy="725.5" r="2.3" fill="#1818e0"/><circle cx="1.5" cy="730.7" r="2.3" fill="#1818e0"/><circle cx="1.5" cy="736" r="2.3" fill="#1818e0"/>
<circle cx="-0.5" cy="671" r="2.5" fill="#ee1c1c"/><circle cx="-0.5" cy="676.2" r="2.5" fill="#ee1c1c"/><circle cx="-0.5" cy="681.5" r="2.5" fill="#ee1c1c"/><circle cx="-0.5" cy="686.7" r="2.5" fill="#ee1c1c"/><circle cx="-0.5" cy="692" r="2.5" fill="#ee1c1c"/><circle cx="-0.5" cy="697.2" r="2.5" fill="#ee1c1c"/><circle cx="-0.5" cy="702.5" r="2.5" fill="#ee1c1c"/><circle cx="-0.5" cy="707.7" r="2.5" fill="#ee1c1c"/><circle cx="-0.5" cy="713" r="2.5" fill="#ee1c1c"/><circle cx="-0.5" cy="718.2" r="2.5" fill="#ee1c1c"/><circle cx="-0.5" cy="723.5" r="2.5" fill="#ee1c1c"/><circle cx="-0.5" cy="728.7" r="2.5" fill="#ee1c1c"/><circle cx="-0.5" cy="734" r="2.5" fill="#ee1c1c"/></g>
<g id="cl3"><circle cx="1" cy="-9" r="0.9"/><circle cx="-3" cy="-7" r="0.9"/><circle cx="5" cy="-8" r="0.9"/><circle cx="-6" cy="-4" r="0.9"/><circle cx="2" cy="-5" r="0.9"/><circle cx="8" cy="-3" r="0.9"/><circle cx="-9" cy="1" r="0.9"/><circle cx="4" cy="-1" r="0.9"/><circle cx="-2" cy="0" r="0.9"/><circle cx="7" cy="2" r="0.9"/><circle cx="-5" cy="3" r="0.9"/><circle cx="1" cy="4" r="0.9"/><circle cx="9" cy="5" r="0.9"/><circle cx="-8" cy="6" r="0.9"/><circle cx="3" cy="7" r="0.9"/><circle cx="-1" cy="9" r="0.9"/><circle cx="6" cy="8" r="0.9"/><circle cx="-4" cy="-9.5" r="0.9"/><circle cx="0" cy="-3" r="0.9"/><circle cx="-7" cy="-1" r="0.9"/><circle cx="5.5" cy="0.5" r="0.9"/><circle cx="-2.5" cy="5" r="0.9"/><circle cx="2.5" cy="2.5" r="0.9"/><circle cx="-4.5" cy="7.5" r="0.9"/><circle cx="8.5" cy="-6" r="0.9"/><circle cx="-8.5" cy="-7" r="0.9"/><circle cx="1.5" cy="1" r="0.9"/><circle cx="-0.5" cy="-1.5" r="0.9"/><circle cx="4.5" cy="4.5" r="0.9"/><circle cx="-3.5" cy="1.5" r="0.9"/><circle cx="6.5" cy="-4.5" r="0.9"/><circle cx="-6.5" cy="4.5" r="0.9"/><circle cx="3.5" cy="-3.5" r="0.9"/><circle cx="-1.5" cy="6.5" r="0.9"/><circle cx="9.5" cy="0" r="0.9"/><circle cx="-9.5" cy="-3" r="0.9"/><circle cx="0.5" cy="8" r="0.9"/><circle cx="7.5" cy="6.5" r="0.9"/><circle cx="-5.5" cy="-5.5" r="0.9"/><circle cx="2" cy="-2" r="0.9"/><circle cx="0" cy="0" r="0.9"/><circle cx="-1" cy="2" r="0.9"/><circle cx="3" cy="0" r="0.9"/><circle cx="1" cy="-6" r="0.9"/><circle cx="-3" cy="-2" r="0.9"/><circle cx="4" cy="2" r="0.9"/><circle cx="-6" cy="0" r="0.9"/><circle cx="6" cy="-1" r="0.9"/></g>
</defs>
<!-- Fig 10 -->
<rect x="167" y="159" width="175" height="131" fill="#fff" stroke="#999" stroke-width="0.7"/>
<g stroke="#ccc" stroke-width="0.5" stroke-dasharray="1,1.5">
<line x1="184" y1="159" x2="184" y2="290"/><line x1="218.8" y1="159" x2="218.8" y2="290"/><line x1="253.5" y1="159" x2="253.5" y2="290"/><line x1="288.3" y1="159" x2="288.3" y2="290"/><line x1="323" y1="159" x2="323" y2="290"/>
<line x1="167" y1="180.9" x2="342" y2="180.9"/><line x1="167" y1="202.7" x2="342" y2="202.7"/><line x1="167" y1="224.5" x2="342" y2="224.5"/><line x1="167" y1="246.3" x2="342" y2="246.3"/><line x1="167" y1="268.1" x2="342" y2="268.1"/>
</g>
<use href="#c10" x="187.5"/><use href="#c10" x="210.1" y="-1.3"/><use href="#c10" x="232.7" y="-2.6"/><use href="#c10" x="255.2" y="-3.9"/><use href="#c10" x="278.5" y="-5.2"/><use href="#c10" x="302.2" y="-6.5"/><use href="#c10" x="324.7" y="-7.8"/>
<g font-size="10" fill="#222" text-anchor="end">
<text x="162" y="162.5">3</text><text x="162" y="184.5">2</text><text x="162" y="206">1</text><text x="162" y="228">0</text><text x="162" y="250">-1</text><text x="162" y="271.5">-2</text><text x="162" y="293.5">-3</text>
</g>
<g font-size="10" fill="#222" text-anchor="middle">
<text x="184" y="303">-2</text><text x="218.8" y="303">-1</text><text x="253.5" y="303">0</text><text x="288.3" y="303">1</text><text x="323" y="303">2</text>
<text x="254" y="316">x(mm)</text>
</g>
<text transform="translate(149,224) rotate(-90)" font-size="10" fill="#222" text-anchor="middle">y(mm)</text>
<!-- Fig 11 -->
<rect x="166" y="399" width="174" height="131" fill="#fff" stroke="#999" stroke-width="0.7"/>
<g stroke="#ccc" stroke-width="0.5" stroke-dasharray="1,1.5">
<line x1="183" y1="399" x2="183" y2="530"/><line x1="217.8" y1="399" x2="217.8" y2="530"/><line x1="252.5" y1="399" x2="252.5" y2="530"/><line x1="287.3" y1="399" x2="287.3" y2="530"/><line x1="322" y1="399" x2="322" y2="530"/>
<line x1="166" y1="420.9" x2="340" y2="420.9"/><line x1="166" y1="442.7" x2="340" y2="442.7"/><line x1="166" y1="464.5" x2="340" y2="464.5"/><line x1="166" y1="486.3" x2="340" y2="486.3"/><line x1="166" y1="508.1" x2="340" y2="508.1"/>
</g>
<use href="#c11" x="196.9"/><use href="#c11" x="219.5" y="-0.6"/><use href="#c11" x="242.1" y="-1.2"/><use href="#c11" x="267.1" y="-1.8"/><use href="#c11" x="290" y="-2.4"/><use href="#c11" x="313.3" y="-3"/>
<g font-size="10" fill="#222" text-anchor="end">
<text x="161" y="402.5">3</text><text x="161" y="424.5">2</text><text x="161" y="446">1</text><text x="161" y="468">0</text><text x="161" y="490">-1</text><text x="161" y="511.5">-2</text><text x="161" y="533.5">-3</text>
</g>
<g font-size="10" fill="#222" text-anchor="middle">
<text x="183" y="543">-2</text><text x="217.8" y="543">-1</text><text x="252.5" y="543">0</text><text x="287.3" y="543">1</text><text x="322" y="543">2</text>
<text x="253" y="556">x(mm)</text>
</g>
<text transform="translate(148,464) rotate(-90)" font-size="10" fill="#222" text-anchor="middle">y(mm)</text>
<!-- Fig 12 histograms -->
<g fill="#fff" stroke="#999" stroke-width="0.6"><rect x="115" y="727" width="118" height="84"/><rect x="274" y="727" width="117" height="84"/><rect x="115" y="852" width="118" height="84"/><rect x="274" y="852" width="117" height="84"/></g>
<g stroke="#d4d4d4" stroke-width="0.4" stroke-dasharray="1,1.5">
<line x1="144.5" y1="727" x2="144.5" y2="811"/><line x1="174" y1="727" x2="174" y2="811"/><line x1="203.5" y1="727" x2="203.5" y2="811"/><line x1="115" y1="755" x2="233" y2="755"/><line x1="115" y1="783" x2="233" y2="783"/>
<line x1="303.25" y1="727" x2="303.25" y2="811"/><line x1="332.5" y1="727" x2="332.5" y2="811"/><line x1="361.75" y1="727" x2="361.75" y2="811"/><line x1="274" y1="755" x2="391" y2="755"/><line x1="274" y1="783" x2="391" y2="783"/>
<line x1="144.5" y1="852" x2="144.5" y2="936"/><line x1="174" y1="852" x2="174" y2="936"/><line x1="203.5" y1="852" x2="203.5" y2="936"/><line x1="115" y1="873" x2="233" y2="873"/><line x1="115" y1="894" x2="233" y2="894"/><line x1="115" y1="915" x2="233" y2="915"/>
<line x1="303.25" y1="852" x2="303.25" y2="936"/><line x1="332.5" y1="852" x2="332.5" y2="936"/><line x1="361.75" y1="852" x2="361.75" y2="936"/><line x1="274" y1="868.8" x2="391" y2="868.8"/><line x1="274" y1="885.6" x2="391" y2="885.6"/><line x1="274" y1="902.4" x2="391" y2="902.4"/><line x1="274" y1="919.2" x2="391" y2="919.2"/>
</g>
<g fill="#000088" stroke="#000044" stroke-width="0.3">
<rect x="144.5" y="799.8" width="5.9" height="11.2"/><rect x="150.4" y="805.4" width="5.9" height="5.6"/><rect x="156.3" y="783" width="5.9" height="28"/><rect x="162.2" y="794.2" width="5.9" height="16.8"/><rect x="168.1" y="760.6" width="5.9" height="50.4"/><rect x="174" y="777.4" width="5.9" height="33.6"/><rect x="179.9" y="738.2" width="5.9" height="72.8"/><rect x="185.8" y="788.6" width="5.9" height="22.4"/><rect x="191.7" y="783" width="5.9" height="28"/><rect x="197.6" y="805.4" width="5.9" height="5.6"/>
<rect x="274" y="794.2" width="5.85" height="16.8"/><rect x="279.85" y="794.2" width="5.85" height="16.8"/><rect x="285.7" y="766.2" width="5.85" height="44.8"/><rect x="291.55" y="788.6" width="5.85" height="22.4"/><rect x="297.4" y="749.4" width="5.85" height="61.6"/><rect x="303.25" y="755" width="5.85" height="56"/><rect x="309.1" y="783" width="5.85" height="28"/><rect x="314.95" y="799.8" width="5.85" height="11.2"/><rect x="320.8" y="805.4" width="5.85" height="5.6"/><rect x="326.65" y="799.8" width="5.85" height="11.2"/>
<rect x="132.7" y="925.5" width="5.9" height="10.5"/><rect x="144.5" y="915" width="5.9" height="21"/><rect x="150.4" y="915" width="5.9" height="21"/><rect x="156.3" y="873" width="5.9" height="63"/><rect x="162.2" y="873" width="5.9" height="63"/><rect x="168.1" y="862.5" width="5.9" height="73.5"/><rect x="174" y="883.5" width="5.9" height="52.5"/><rect x="179.9" y="883.5" width="5.9" height="52.5"/><rect x="185.8" y="894" width="5.9" height="42"/>
<rect x="295" y="927.6" width="7.65" height="8.4"/><rect x="302.65" y="919.2" width="7.65" height="16.8"/><rect x="310.3" y="902.4" width="7.65" height="33.6"/><rect x="317.95" y="902.4" width="7.65" height="33.6"/><rect x="325.6" y="885.6" width="7.65" height="50.4"/><rect x="333.25" y="860.4" width="7.65" height="75.6"/><rect x="340.9" y="902.4" width="7.65" height="33.6"/><rect x="348.55" y="927.6" width="7.65" height="8.4"/><rect x="356.2" y="910.8" width="7.65" height="25.2"/><rect x="363.85" y="927.6" width="7.65" height="8.4"/>
</g>
<g font-size="5.5" fill="#333" text-anchor="middle">
<text x="174" y="723">(a) x(Calibration)(E<tspan font-size="3.8" dy="1.5">RMS</tspan><tspan dy="-1.5">: 42μm)</tspan></text>
<text x="332" y="723">(b) y(Calibration)(E<tspan font-size="3.8" dy="1.5">RMS</tspan><tspan dy="-1.5">: 39μm)</tspan></text>
<text x="174" y="848">(c) x(Validation)(E<tspan font-size="3.8" dy="1.5">RMS</tspan><tspan dy="-1.5">: 45μm)</tspan></text>
<text x="332" y="848">(d) y(Validation)(E<tspan font-size="3.8" dy="1.5">RMS</tspan><tspan dy="-1.5">: 55μm)</tspan></text>
<text x="115" y="818">-0.2</text><text x="144.5" y="818">-0.1</text><text x="174" y="818">0</text><text x="203.5" y="818">0.1</text><text x="233" y="818">0.2</text>
<text x="274" y="818">-0.1</text><text x="303.25" y="818">0</text><text x="332.5" y="818">0.1</text><text x="361.75" y="818">0.2</text><text x="391" y="818">0.3</text>
<text x="115" y="943">-0.2</text><text x="144.5" y="943">-0.1</text><text x="174" y="943">0</text><text x="203.5" y="943">0.1</text><text x="233" y="943">0.2</text>
<text x="274" y="943">-0.2</text><text x="303.25" y="943">-0.1</text><text x="332.5" y="943">0</text><text x="361.75" y="943">0.1</text><text x="391" y="943">0.2</text>
<text x="174" y="828">Prediction Error(mm)</text><text x="332" y="828">Prediction Error(mm)</text>
<text x="174" y="953">Prediction Error(mm)</text><text x="332" y="953">Prediction Error(mm)</text>
</g>
<g font-size="5.5" fill="#333" text-anchor="end">
<text x="113" y="813">0</text><text x="113" y="785">5</text><text x="113" y="757">10</text><text x="113" y="729">15</text>
<text x="272" y="813">0</text><text x="272" y="785">5</text><text x="272" y="757">10</text><text x="272" y="729">15</text>
<text x="113" y="938">0</text><text x="113" y="917">2</text><text x="113" y="896">4</text><text x="113" y="875">6</text><text x="113" y="854">8</text>
<text x="272" y="938">0</text><text x="272" y="921">2</text><text x="272" y="904">4</text><text x="272" y="887">6</text><text x="272" y="871">8</text><text x="272" y="854">10</text>
</g>
<g font-size="5.5" fill="#333" text-anchor="middle">
<text transform="translate(101,769) rotate(-90)">Number of samples</text><text transform="translate(260,769) rotate(-90)">Number of samples</text>
<text transform="translate(101,894) rotate(-90)">Number of samples</text><text transform="translate(260,894) rotate(-90)">Number of samples</text>
</g>
<!-- Fig 13 -->
<rect x="477" y="289" width="248" height="172" fill="#fff" stroke="#bbb" stroke-width="0.8"/>
<text x="608" y="304" font-size="8" font-weight="bold" fill="#222" text-anchor="middle">BPM-B</text>
<g stroke="#bbb" stroke-width="0.5" stroke-dasharray="1.5,1.5">
<line x1="519" y1="313" x2="714" y2="313"/><line x1="519" y1="339.75" x2="714" y2="339.75"/><line x1="519" y1="366.5" x2="714" y2="366.5"/><line x1="519" y1="393.25" x2="714" y2="393.25"/>
<line x1="546.9" y1="313" x2="546.9" y2="420"/><line x1="574.7" y1="313" x2="574.7" y2="420"/><line x1="602.6" y1="313" x2="602.6" y2="420"/><line x1="630.4" y1="313" x2="630.4" y2="420"/><line x1="658.3" y1="313" x2="658.3" y2="420"/><line x1="686.1" y1="313" x2="686.1" y2="420"/><line x1="714" y1="313" x2="714" y2="420"/>
</g>
<line x1="519" y1="420" x2="714" y2="420" stroke="#999" stroke-width="0.6"/>
<line x1="519" y1="313" x2="519" y2="420" stroke="#999" stroke-width="0.6"/>
<g fill="#1a2fd0"><circle cx="531.8" cy="395.9" r="2.2"/><circle cx="591.4" cy="347.8" r="2.2"/><circle cx="622" cy="346.2" r="2.2"/><circle cx="651" cy="318.4" r="2.2"/><circle cx="678.9" cy="344" r="2.2"/></g>
<g font-size="6" fill="#333" text-anchor="end"><text x="514" y="315">-1</text><text x="514" y="342">-1,5</text><text x="514" y="368.5">-2</text><text x="514" y="395.5">-2,5</text><text x="514" y="422">-3</text></g>
<g font-size="6" fill="#333" text-anchor="middle"><text x="519" y="435">-0,5</text><text x="546.9" y="435">0</text><text x="574.7" y="435">0,5</text><text x="602.6" y="435">1</text><text x="630.4" y="435">1,5</text><text x="658.3" y="435">2</text><text x="686.1" y="435">2,5</text><text x="714" y="435">3</text></g>
<text x="614" y="449" font-size="7" font-weight="bold" fill="#222" text-anchor="middle">X (mm)</text>
<text transform="translate(492,366) rotate(-90)" font-size="7" font-weight="bold" fill="#222" text-anchor="middle">Y (mm)</text>
<!-- Fig 14 -->
<g fill="#fff" stroke="#999" stroke-width="0.6"><rect x="494" y="670" width="95" height="68"/><rect x="629" y="670" width="106" height="68"/><rect x="494" y="785" width="95" height="82"/><rect x="629" y="785" width="106" height="82"/></g>
<g stroke="#ccc" stroke-width="0.4" stroke-dasharray="1,1.5">
<line x1="682" y1="670" x2="682" y2="738"/><line x1="629" y1="704" x2="735" y2="704"/>
<line x1="541.5" y1="785" x2="541.5" y2="867"/><line x1="494" y1="812.3" x2="589" y2="812.3"/><line x1="494" y1="839.7" x2="589" y2="839.7"/>
<line x1="682" y1="785" x2="682" y2="867"/><line x1="629" y1="826" x2="735" y2="826"/>
</g>
<use href="#c14" x="505.1"/><use href="#c14" x="516.2"/><use href="#c14" x="525.7"/><use href="#c14" x="536.8"/><use href="#c14" x="547.8"/><use href="#c14" x="557.3"/><use href="#c14" x="568.4"/><use href="#c14" x="577.9"/><use href="#c14" x="586.4"/>
<use href="#cl3" fill="#1818e0" transform="translate(686,701) scale(1.6,1.2)"/>
<use href="#cl3" fill="#1818e0" transform="translate(684,697) rotate(90) scale(1.4,1.5)"/>
<use href="#cl3" fill="#ee1c1c" transform="translate(680,690) scale(2.2,1.5)"/>
<use href="#cl3" fill="#ee1c1c" transform="translate(682,688) rotate(90) scale(1.3,2)"/>
<use href="#cl3" fill="#ee1c1c" transform="translate(678,692) scale(1.5,1.1)"/>
<g fill="#000088" stroke="#000044" stroke-width="0.3">
<rect x="524.9" y="839.7" width="4.75" height="27.3"/><rect x="529.65" y="842.4" width="4.75" height="24.6"/><rect x="534.4" y="820.5" width="4.75" height="46.5"/><rect x="539.15" y="826" width="4.75" height="41"/><rect x="543.9" y="809.6" width="4.75" height="57.4"/><rect x="548.65" y="831.5" width="4.75" height="35.5"/><rect x="553.4" y="850.6" width="4.75" height="16.4"/><rect x="558.15" y="861.5" width="4.75" height="5.5"/><rect x="562.9" y="858.8" width="4.75" height="8.2"/>
<rect x="637" y="846.5" width="5.8" height="20.5"/><rect x="642.8" y="854.7" width="5.8" height="12.3"/><rect x="648.6" y="830.1" width="5.8" height="36.9"/><rect x="654.4" y="805.5" width="5.8" height="61.5"/><rect x="660.2" y="785" width="5.8" height="82"/><rect x="666" y="793.2" width="5.8" height="73.8"/><rect x="671.8" y="809.6" width="5.8" height="57.4"/><rect x="677.6" y="830.1" width="5.8" height="36.9"/><rect x="683.4" y="846.5" width="5.8" height="20.5"/><rect x="689.2" y="858.8" width="5.8" height="8.2"/>
</g>
<g font-size="8" fill="#111" text-anchor="middle">
<text x="533" y="662">(a) Calib: 36μm(x), 39μm(y)</text>
<text x="683" y="662">(b) Valid: 100 pulses</text>
<text x="528" y="780">(c) x(valid): 39μm</text>
<text x="685" y="780">(d) y(valid): 36μm</text>
</g>
<g font-size="6.5" fill="#111" text-anchor="end">
<text x="491" y="672.5">1</text><text x="491" y="682">0.5</text><text x="491" y="691.5">0</text><text x="491" y="701.5">-0.5</text><text x="491" y="711">-1</text><text x="491" y="721">-1.5</text><text x="491" y="730.5">-2</text><text x="491" y="740">-2.5</text>
<text x="626" y="672.5">-1</text><text x="626" y="706.5">-1.1</text><text x="626" y="740">-1.2</text>
<text x="491" y="869">0</text><text x="491" y="842">10</text><text x="491" y="815">20</text><text x="491" y="787.5">30</text>
<text x="626" y="869">0</text><text x="626" y="828">10</text><text x="626" y="787.5">20</text>
</g>
<g font-size="6.5" fill="#111" text-anchor="middle">
<text x="496" y="746">0.5</text><text x="509.8" y="746">1</text><text x="525.7" y="746">1.5</text><text x="541.5" y="746">2</text><text x="557.3" y="746">2.5</text><text x="573.2" y="746">3</text><text x="589" y="746">3.5</text>
<text x="541" y="756">x(mm)</text>
<text x="629" y="746">2.6</text><text x="682" y="746">2.8</text><text x="735" y="746">3</text>
<text x="682" y="756">x(mm)</text>
<text x="494" y="875">-200</text><text x="541.5" y="875">0</text><text x="589" y="875">200</text>
<text x="541" y="886" font-weight="bold" font-size="6">Residual(μm)</text>
<text x="629" y="875">-100</text><text x="682" y="875">0</text><text x="735" y="875">100</text>
<text x="682" y="886" font-weight="bold" font-size="6">Residual(μm)</text>
<text transform="translate(464,704) rotate(-90)">y(mm)</text>
<text transform="translate(612,704) rotate(-90)">y(mm)</text>
<text transform="translate(466,826) rotate(-90)" font-size="6">Number of samples</text>
<text transform="translate(612,826) rotate(-90)" font-size="6">Number of samples</text>
</g>
</svg>

<div class="t" style="left:82px;top:327px">
<div>Figure 10: Measurement (blue) and prediction (red) of</div>
<div>beam position from calibration.</div>
</div>
<div class="t" style="left:82px;top:569px">
<div>Figure 11: Measurement (blue) and prediction (red) of</div>
<div>beam positions from validation.</div>
</div>
<div class="t" style="left:82px;top:627px">
<div class="j">The difference between measured and predicted</div>
<div class="j">transverse beam position from calibration and validation</div>
<div>is shown in Fig. 12.</div>
</div>
<div class="t" style="left:82px;top:966px">
<div>Figure 12: Difference of measured and predicted beam</div>
<div>positions.</div>
</div>
<div class="t" style="left:82px;top:1008px">
<div class="j">Note that the denoted resolution in the plots is in a global</div>
<div class="j">sense, since the RMS is calculated on the prediction</div>
<div class="j">errors for all different beam offsets. It is not the resolution</div>
<div class="j">which is usually used in beam diagnostics for certain</div>
<div>positions. This will be clarified in the next section.</div>
</div>

<div class="h" style="left:439px;top:149px">RESOLUTION ESTIMATION</div>
<div class="t" style="left:439px;top:189px">
<div class="j">For this measurement couplers C1H1, C2H1 and C3H1</div>
<div class="j">were used (see Fig. 1). To estimate the resolution a</div>
<div class="j">hundred beam pulses were taken for each of several</div>
<div class="j">positions shown in Fig. 13 as measured with BPM-B. In</div>
<div>this measurement only the MTCA digitizer was used.</div>
</div>
<div class="t c" style="left:439px;top:472px"><div>Figure 13: Selected beam positions for resolution studies.</div></div>
<div class="t" style="left:439px;top:513px">
<div class="j">Fig. 14 shows the analysis of one measurement. Fig. 14(a)</div>
<div class="j">shows the calibration with the position determination</div>
<div class="j">from the BPM in blue and the prediction from the SVD in</div>
<div class="j">red. In Fig. 14(b) all 100 beam pulses are painted within it</div>
<div class="j">and the deviation between these hundred beam pulses can</div>
<div class="j">be obtained. Fig. 14(c) and (d) show the resultant</div>
<div>resolution for x and y direction at a specific position.</div>
</div>
<div class="t" style="left:439px;top:903px">
<div>Figure 14: Analysis of the 100 beam pulses taken from</div>
<div>coupler C3H1 at 9060MHz with MTCA at BPM-B</div>
<div>position (2.37, -1.58), see Fig. 13.</div>
</div>
<div class="t" style="left:439px;top:962px">
<div class="j i">In Fig. 15 the measured and predicted beam positions</div>
<div>for the same position, three cavities are shown.</div>
</div>
</div>

<!-- ================= PAGE 4 ================= -->
<div class="pg" style="left:2544px">
<svg width="848" height="1200">
<defs>
<g id="cl4"><circle cx="1" cy="-9" r="0.8"/><circle cx="-3" cy="-7" r="0.8"/><circle cx="5" cy="-8" r="0.8"/><circle cx="-6" cy="-4" r="0.8"/><circle cx="2" cy="-5" r="0.8"/><circle cx="8" cy="-3" r="0.8"/><circle cx="-9" cy="1" r="0.8"/><circle cx="4" cy="-1" r="0.8"/><circle cx="-2" cy="0" r="0.8"/><circle cx="7" cy="2" r="0.8"/><circle cx="-5" cy="3" r="0.8"/><circle cx="1" cy="4" r="0.8"/><circle cx="9" cy="5" r="0.8"/><circle cx="-8" cy="6" r="0.8"/><circle cx="3" cy="7" r="0.8"/><circle cx="-1" cy="9" r="0.8"/><circle cx="6" cy="8" r="0.8"/><circle cx="-4" cy="-9.5" r="0.8"/><circle cx="0" cy="-3" r="0.8"/><circle cx="-7" cy="-1" r="0.8"/><circle cx="5.5" cy="0.5" r="0.8"/><circle cx="-2.5" cy="5" r="0.8"/><circle cx="2.5" cy="2.5" r="0.8"/><circle cx="-4.5" cy="7.5" r="0.8"/><circle cx="8.5" cy="-6" r="0.8"/><circle cx="-8.5" cy="-7" r="0.8"/><circle cx="1.5" cy="1" r="0.8"/><circle cx="-0.5" cy="-1.5" r="0.8"/><circle cx="4.5" cy="4.5" r="0.8"/><circle cx="-3.5" cy="1.5" r="0.8"/><circle cx="6.5" cy="-4.5" r="0.8"/><circle cx="-6.5" cy="4.5" r="0.8"/><circle cx="3.5" cy="-3.5" r="0.8"/><circle cx="-1.5" cy="6.5" r="0.8"/><circle cx="9.5" cy="0" r="0.8"/><circle cx="-9.5" cy="-3" r="0.8"/><circle cx="0.5" cy="8" r="0.8"/><circle cx="7.5" cy="6.5" r="0.8"/><circle cx="-5.5" cy="-5.5" r="0.8"/><circle cx="2" cy="-2" r="0.8"/><circle cx="0" cy="0" r="0.8"/><circle cx="-1" cy="2" r="0.8"/><circle cx="3" cy="0" r="0.8"/><circle cx="1" cy="-6" r="0.8"/><circle cx="-3" cy="-2" r="0.8"/><circle cx="4" cy="2" r="0.8"/><circle cx="-6" cy="0" r="0.8"/><circle cx="6" cy="-1" r="0.8"/></g>
<g id="cl5"><circle cx="1" cy="-9" r="1.4"/><circle cx="-3" cy="-7" r="1.4"/><circle cx="5" cy="-8" r="1.4"/><circle cx="-6" cy="-4" r="1.4"/><circle cx="2" cy="-5" r="1.4"/><circle cx="8" cy="-3" r="1.4"/><circle cx="-9" cy="1" r="1.4"/><circle cx="4" cy="-1" r="1.4"/><circle cx="-2" cy="0" r="1.4"/><circle cx="7" cy="2" r="1.4"/><circle cx="-5" cy="3" r="1.4"/><circle cx="1" cy="4" r="1.4"/><circle cx="9" cy="5" r="1.4"/><circle cx="-8" cy="6" r="1.4"/><circle cx="3" cy="7" r="1.4"/><circle cx="-1" cy="9" r="1.4"/><circle cx="6" cy="8" r="1.4"/><circle cx="-4" cy="-9.5" r="1.4"/><circle cx="0" cy="-3" r="1.4"/><circle cx="-7" cy="-1" r="1.4"/><circle cx="5.5" cy="0.5" r="1.4"/><circle cx="-2.5" cy="5" r="1.4"/><circle cx="2.5" cy="2.5" r="1.4"/><circle cx="-4.5" cy="7.5" r="1.4"/><circle cx="8.5" cy="-6" r="1.4"/><circle cx="-8.5" cy="-7" r="1.4"/><circle cx="1.5" cy="1" r="1.4"/><circle cx="-0.5" cy="-1.5" r="1.4"/><circle cx="4.5" cy="4.5" r="1.4"/><circle cx="-3.5" cy="1.5" r="1.4"/><circle cx="6.5" cy="-4.5" r="1.4"/><circle cx="-6.5" cy="4.5" r="1.4"/><circle cx="3.5" cy="-3.5" r="1.4"/><circle cx="-1.5" cy="6.5" r="1.4"/><circle cx="-5.5" cy="-5.5" r="1.4"/><circle cx="2" cy="-2" r="1.4"/><circle cx="0" cy="0" r="1.4"/><circle cx="-1" cy="2" r="1.4"/><circle cx="3" cy="0" r="1.4"/><circle cx="-3" cy="-2" r="1.4"/></g>
<g id="cl6"><circle cx="1" cy="-9" r="0.55"/><circle cx="-3" cy="-7" r="0.55"/><circle cx="5" cy="-8" r="0.55"/><circle cx="-6" cy="-4" r="0.55"/><circle cx="2" cy="-5" r="0.55"/><circle cx="8" cy="-3" r="0.55"/><circle cx="-9" cy="1" r="0.55"/><circle cx="4" cy="-1" r="0.55"/><circle cx="-2" cy="0" r="0.55"/><circle cx="7" cy="2" r="0.55"/><circle cx="-5" cy="3" r="0.55"/><circle cx="1" cy="4" r="0.55"/><circle cx="9" cy="5" r="0.55"/><circle cx="-8" cy="6" r="0.55"/><circle cx="3" cy="7" r="0.55"/><circle cx="-1" cy="9" r="0.55"/><circle cx="6" cy="8" r="0.55"/><circle cx="-4" cy="-9.5" r="0.55"/><circle cx="0" cy="-3" r="0.55"/><circle cx="-7" cy="-1" r="0.55"/><circle cx="5.5" cy="0.5" r="0.55"/><circle cx="-2.5" cy="5" r="0.55"/><circle cx="2.5" cy="2.5" r="0.55"/><circle cx="-4.5" cy="7.5" r="0.55"/><circle cx="8.5" cy="-6" r="0.55"/><circle cx="-8.5" cy="-7" r="0.55"/><circle cx="1.5" cy="1" r="0.55"/><circle cx="-0.5" cy="-1.5" r="0.55"/><circle cx="4.5" cy="4.5" r="0.55"/><circle cx="-3.5" cy="1.5" r="0.55"/><circle cx="6.5" cy="-4.5" r="0.55"/><circle cx="-6.5" cy="4.5" r="0.55"/><circle cx="3.5" cy="-3.5" r="0.55"/><circle cx="-1.5" cy="6.5" r="0.55"/><circle cx="9.5" cy="0" r="0.55"/><circle cx="-9.5" cy="-3" r="0.55"/><circle cx="0.5" cy="8" r="0.55"/><circle cx="7.5" cy="6.5" r="0.55"/><circle cx="-5.5" cy="-5.5" r="0.55"/><circle cx="2" cy="-2" r="0.55"/></g>
</defs>
<!-- Fig 15 -->
<g fill="#fff" stroke="#aaa" stroke-width="0.6"><rect x="171" y="162" width="163" height="127"/><rect x="171" y="318" width="163" height="127"/><rect x="171" y="474" width="163" height="127"/></g>
<g stroke="#ddd" stroke-width="0.4" stroke-dasharray="1,1.5">
<line x1="203.6" y1="162" x2="203.6" y2="289"/><line x1="236.2" y1="162" x2="236.2" y2="289"/><line x1="268.8" y1="162" x2="268.8" y2="289"/><line x1="301.4" y1="162" x2="301.4" y2="289"/>
<line x1="171" y1="183.2" x2="334" y2="183.2"/><line x1="171" y1="204.3" x2="334" y2="204.3"/><line x1="171" y1="225.5" x2="334" y2="225.5"/><line x1="171" y1="246.7" x2="334" y2="246.7"/><line x1="171" y1="267.8" x2="334" y2="267.8"/>
<line x1="203.6" y1="318" x2="203.6" y2="445"/><line x1="236.2" y1="318" x2="236.2" y2="445"/><line x1="268.8" y1="318" x2="268.8" y2="445"/><line x1="301.4" y1="318" x2="301.4" y2="445"/>
<line x1="171" y1="339.2" x2="334" y2="339.2"/><line x1="171" y1="360.3" x2="334" y2="360.3"/><line x1="171" y1="381.5" x2="334" y2="381.5"/><line x1="171" y1="402.7" x2="334" y2="402.7"/><line x1="171" y1="423.8" x2="334" y2="423.8"/>
<line x1="203.6" y1="474" x2="203.6" y2="601"/><line x1="236.2" y1="474" x2="236.2" y2="601"/><line x1="268.8" y1="474" x2="268.8" y2="601"/><line x1="301.4" y1="474" x2="301.4" y2="601"/>
<line x1="171" y1="495.2" x2="334" y2="495.2"/><line x1="171" y1="516.3" x2="334" y2="516.3"/><line x1="171" y1="537.5" x2="334" y2="537.5"/><line x1="171" y1="558.7" x2="334" y2="558.7"/><line x1="171" y1="579.8" x2="334" y2="579.8"/>
</g>
<!-- C1 -->
<use href="#cl4" fill="#ee1c1c" transform="translate(303,211) scale(2.1,1.4)"/>
<use href="#cl4" fill="#ee1c1c" transform="translate(305,213) rotate(90) scale(1.3,2.2)"/>
<g fill="#ee1c1c"><circle cx="283" cy="164" r="1.9"/><circle cx="290" cy="169" r="1.9"/><circle cx="296" cy="176" r="1.9"/><circle cx="300" cy="166" r="1.9"/><circle cx="305" cy="181" r="1.9"/><circle cx="279" cy="184" r="1.9"/><circle cx="287" cy="190" r="1.9"/><circle cx="310" cy="186" r="1.9"/><circle cx="292" cy="183" r="1.9"/><circle cx="275" cy="173" r="1.9"/><circle cx="302" cy="191" r="1.9"/><circle cx="313" cy="196" r="1.9"/><circle cx="320" cy="205" r="1.9"/><circle cx="323" cy="214" r="1.9"/><circle cx="318" cy="222" r="1.9"/><circle cx="259" cy="191" r="1.9"/><circle cx="258" cy="207" r="1.9"/><circle cx="310" cy="242" r="1.9"/><circle cx="316" cy="226" r="1.9"/><circle cx="270" cy="195" r="1.9"/><circle cx="266" cy="175" r="1.9"/><circle cx="284" cy="176" r="1.9"/><circle cx="297" cy="161" r="1.9"/><circle cx="296" cy="196" r="1.9"/></g>
<use href="#cl5" fill="#1818e0" transform="translate(291,220) scale(1.3,1.2)"/>
<use href="#cl5" fill="#1818e0" transform="translate(293,218) rotate(90) scale(0.9,1)"/>
<!-- C2 -->
<use href="#cl6" fill="#ee1c1c" transform="translate(264,388) scale(3.7,4.4)"/>
<use href="#cl6" fill="#ee1c1c" transform="translate(263,386) rotate(90) scale(3,3)"/>
<g fill="#ee1c1c"><circle cx="224" cy="384" r="1.9"/><circle cx="235" cy="342" r="1.9"/><circle cx="238" cy="347" r="1.9"/><circle cx="245" cy="360" r="1.9"/><circle cx="300" cy="372" r="1.9"/><circle cx="254" cy="427" r="1.9"/><circle cx="262" cy="434" r="1.9"/><circle cx="258" cy="432" r="1.9"/></g>
<use href="#cl5" fill="#1818e0" transform="translate(260,393) scale(1.4,1.6)"/>
<use href="#cl5" fill="#1818e0" transform="translate(262,391) rotate(90) scale(1.2,1.1)"/>
<!-- C3 -->
<use href="#cl5" fill="#1818e0" transform="translate(236,578) scale(1.5,1.3)"/>
<use href="#cl5" fill="#1818e0" transform="translate(234,576) rotate(90) scale(1.1,1.3)"/>
<circle cx="257" cy="546" r="1.9" fill="#1818e0"/>
<use href="#cl5" fill="#ee1c1c" transform="translate(227,549) scale(1.6,1.5)"/>
<use href="#cl5" fill="#ee1c1c" transform="translate(228,551) rotate(90) scale(1.2,1.3)"/>
<g fill="#ee1c1c"><circle cx="207" cy="539" r="1.9"/><circle cx="208" cy="559" r="1.9"/><circle cx="213" cy="547" r="1.9"/></g>
<g font-size="6.5" font-weight="bold" fill="#222" text-anchor="middle"><text x="253" y="158">C1H1</text><text x="253" y="313">C2H1</text><text x="253" y="469">C3H1</text></g>
<g font-size="3.6" fill="#555" text-anchor="end">
<text x="168" y="163">-0.5</text><text x="168" y="184.5">-0.55</text><text x="168" y="205.5">-0.6</text><text x="168" y="226.5">-0.65</text><text x="168" y="248">-0.7</text><text x="168" y="269">-0.75</text><text x="168" y="290">-0.8</text>
<text x="168" y="319">-0.5</text><text x="168" y="340.5">-0.55</text><text x="168" y="361.5">-0.6</text><text x="168" y="382.5">-0.65</text><text x="168" y="404">-0.7</text><text x="168" y="425">-0.75</text><text x="168" y="446">-0.8</text>
<text x="168" y="475">-0.5</text><text x="168" y="496.5">-0.55</text><text x="168" y="517.5">-0.6</text><text x="168" y="538.5">-0.65</text><text x="168" y="560">-0.7</text><text x="168" y="581">-0.75</text><text x="168" y="602">-0.8</text>
</g>
<g font-size="3.6" fill="#555" text-anchor="middle">
<text x="171" y="294">2.3</text><text x="203.6" y="294">2.4</text><text x="236.2" y="294">2.5</text><text x="268.8" y="294">2.6</text><text x="301.4" y="294">2.7</text><text x="334" y="294">2.8</text>
<text x="171" y="450">2.3</text><text x="203.6" y="450">2.4</text><text x="236.2" y="450">2.5</text><text x="268.8" y="450">2.6</text><text x="301.4" y="450">2.7</text><text x="334" y="450">2.8</text>
<text x="171" y="606">2.3</text><text x="203.6" y="606">2.4</text><text x="236.2" y="606">2.5</text><text x="268.8" y="606">2.6</text><text x="301.4" y="606">2.7</text><text x="334" y="606">2.8</text>
</g>
<g font-size="5.5" fill="#333" text-anchor="middle">
<text x="253" y="302">x(mm)</text><text x="253" y="458">x(mm)</text><text x="253" y="614">x(mm)</text>
<text transform="translate(155,226) rotate(-90)">y(mm)</text><text transform="translate(155,382) rotate(-90)">y(mm)</text><text transform="translate(155,538) rotate(-90)">y(mm)</text>
</g>
<!-- Fig 16 -->
<rect x="82" y="816" width="333" height="182" fill="#fff" stroke="#bbb" stroke-width="0.8"/>
<g stroke="#bbb" stroke-width="0.5" stroke-dasharray="1.5,1.5">
<line x1="130" y1="845" x2="404" y2="845"/><line x1="130" y1="858.6" x2="404" y2="858.6"/><line x1="130" y1="872.3" x2="404" y2="872.3"/><line x1="130" y1="885.9" x2="404" y2="885.9"/><line x1="130" y1="899.5" x2="404" y2="899.5"/><line x1="130" y1="913.1" x2="404" y2="913.1"/><line x1="130" y1="926.8" x2="404" y2="926.8"/><line x1="130" y1="940.4" x2="404" y2="940.4"/>
<line x1="152.8" y1="845" x2="152.8" y2="954"/><line x1="175.6" y1="845" x2="175.6" y2="954"/><line x1="198.5" y1="845" x2="198.5" y2="954"/><line x1="221.3" y1="845" x2="221.3" y2="954"/><line x1="244.2" y1="845" x2="244.2" y2="954"/><line x1="267" y1="845" x2="267" y2="954"/><line x1="289.9" y1="845" x2="289.9" y2="954"/><line x1="312.7" y1="845" x2="312.7" y2="954"/><line x1="335.6" y1="845" x2="335.6" y2="954"/><line x1="358.4" y1="845" x2="358.4" y2="954"/><line x1="381.2" y1="845" x2="381.2" y2="954"/><line x1="404" y1="845" x2="404" y2="954"/>
</g>
<line x1="130" y1="954" x2="404" y2="954" stroke="#777" stroke-width="0.6"/><line x1="130" y1="845" x2="130" y2="954" stroke="#777" stroke-width="0.6"/>
<line x1="130" y1="851.8" x2="404" y2="851.8" stroke="#e02020" stroke-width="1.4" stroke-dasharray="5,4"/>
<line x1="130" y1="884.5" x2="404" y2="884.5" stroke="#e02020" stroke-width="1"/>
<line x1="130" y1="898.1" x2="404" y2="898.1" stroke="#4a7ab8" stroke-width="1"/>
<line x1="130" y1="921.3" x2="404" y2="921.3" stroke="#4a7ab8" stroke-width="1.4" stroke-dasharray="5,4"/>
<g fill="#ee1010"><circle cx="148.2" cy="937.7" r="2"/><circle cx="193.9" cy="928.1" r="2"/><circle cx="191.6" cy="939" r="2"/><circle cx="190.2" cy="944.5" r="2"/><circle cx="214.4" cy="915.9" r="2"/></g>
<g fill="#3a66b0"><circle cx="254.7" cy="937.7" r="2"/><circle cx="303.6" cy="925.4" r="2"/><circle cx="328.7" cy="930.8" r="2"/><circle cx="352.5" cy="932.2" r="2"/><circle cx="375.3" cy="900.9" r="2"/></g>
<rect x="98" y="820" width="299" height="15" fill="#fff" stroke="#888" stroke-width="0.6"/>
<circle cx="114" cy="827.5" r="1.8" fill="#3a66b0"/><text x="125" y="830" font-size="7" fill="#222">x</text>
<line x1="135" y1="827.5" x2="155" y2="827.5" stroke="#4a7ab8" stroke-width="1.3" stroke-dasharray="4,3"/><text x="157" y="830" font-size="7" fill="#222">MTCA(x)</text>
<line x1="196" y1="827.5" x2="216" y2="827.5" stroke="#4a7ab8" stroke-width="1"/><text x="217" y="830" font-size="7" fill="#222">VME(x)</text>
<circle cx="261" cy="827.5" r="1.8" fill="#ee1010"/><text x="272" y="830" font-size="7" fill="#222">y</text>
<line x1="283" y1="827.5" x2="303" y2="827.5" stroke="#e02020" stroke-width="1.3" stroke-dasharray="4,3"/><text x="305" y="830" font-size="7" fill="#222">MTCA(y)</text>
<line x1="344" y1="827.5" x2="364" y2="827.5" stroke="#e02020" stroke-width="1"/><text x="365" y="830" font-size="7" fill="#222">VME(y)</text>
<g font-size="6.5" fill="#333" text-anchor="end">
<text x="124" y="847.5">110</text><text x="124" y="861">100</text><text x="124" y="874.8">90</text><text x="124" y="888.4">80</text><text x="124" y="902">70</text><text x="124" y="915.6">60</text><text x="124" y="929.3">50</text><text x="124" y="942.9">40</text><text x="124" y="956.5">30</text>
</g>
<g font-size="6.5" fill="#333" text-anchor="middle">
<text x="130" y="968">-3</text><text x="152.8" y="968">-2,5</text><text x="175.6" y="968">-2</text><text x="198.5" y="968">-1,5</text><text x="221.3" y="968">-1</text><text x="244.2" y="968">-0,5</text><text x="267" y="968">0</text><text x="289.9" y="968">0,5</text><text x="312.7" y="968">1</text><text x="335.6" y="968">1,5</text><text x="358.4" y="968">2</text><text x="381.2" y="968">2,5</text><text x="404" y="968">3</text>
</g>
<text x="267" y="985" font-size="7.5" font-weight="bold" fill="#222" text-anchor="middle">BPM-B (mm)</text>
<text x="382" y="948" font-size="10" font-weight="bold" fill="#222" text-anchor="middle">C1H1</text>
<text transform="translate(97,900) rotate(-90)" font-size="7.5" font-weight="bold" fill="#222" text-anchor="middle">E<tspan font-size="5" dy="1.5">RMS</tspan><tspan dy="-1.5"> (μm)</tspan></text>
<!-- Fig 17 -->
<rect x="439" y="149" width="329" height="190" fill="#fff" stroke="#bbb" stroke-width="0.8"/>
<g stroke="#bbb" stroke-width="0.5" stroke-dasharray="1.5,1.5">
<line x1="486" y1="179" x2="757" y2="179"/><line x1="486" y1="193.75" x2="757" y2="193.75"/><line x1="486" y1="208.5" x2="757" y2="208.5"/><line x1="486" y1="223.25" x2="757" y2="223.25"/><line x1="486" y1="238" x2="757" y2="238"/><line x1="486" y1="252.75" x2="757" y2="252.75"/><line x1="486" y1="267.5" x2="757" y2="267.5"/><line x1="486" y1="282.25" x2="757" y2="282.25"/>
<line x1="508.5" y1="179" x2="508.5" y2="297"/><line x1="531.1" y1="179" x2="531.1" y2="297"/><line x1="553.7" y1="179" x2="553.7" y2="297"/><line x1="576.3" y1="179" x2="576.3" y2="297"/><line x1="598.9" y1="179" x2="598.9" y2="297"/><line x1="621.5" y1="179" x2="621.5" y2="297"/><line x1="644.1" y1="179" x2="644.1" y2="297"/><line x1="666.7" y1="179" x2="666.7" y2="297"/><line x1="689.3" y1="179" x2="689.3" y2="297"/><line x1="711.9" y1="179" x2="711.9" y2="297"/><line x1="734.5" y1="179" x2="734.5" y2="297"/><line x1="757" y1="179" x2="757" y2="297"/>
</g>
<line x1="486" y1="297" x2="757" y2="297" stroke="#777" stroke-width="0.6"/><line x1="486" y1="179" x2="486" y2="297" stroke="#777" stroke-width="0.6"/>
<line x1="486" y1="186.4" x2="757" y2="186.4" stroke="#e02020" stroke-width="1.4" stroke-dasharray="5,4"/>
<line x1="486" y1="212.9" x2="757" y2="212.9" stroke="#e02020" stroke-width="1"/>
<line x1="486" y1="236.5" x2="757" y2="236.5" stroke="#4a7ab8" stroke-width="1.4" stroke-dasharray="5,4"/>
<line x1="486" y1="252.75" x2="757" y2="252.75" stroke="#4a7ab8" stroke-width="1"/>
<g fill="#ee1010"><circle cx="504" cy="215.9" r="2"/><circle cx="549.2" cy="208.5" r="2"/><circle cx="551.4" cy="221.8" r="2"/><circle cx="549.2" cy="260.1" r="2"/><circle cx="571.8" cy="271.9" r="2"/></g>
<g fill="#3a66b0"><circle cx="609.3" cy="282.3" r="2"/><circle cx="657.7" cy="252.8" r="2"/><circle cx="682.5" cy="274.9" r="2"/><circle cx="705.1" cy="258.6" r="2"/><circle cx="728.6" cy="226.2" r="2"/></g>
<rect x="455" y="153" width="296" height="16" fill="#fff" stroke="#888" stroke-width="0.6"/>
<circle cx="471" cy="161" r="1.8" fill="#3a66b0"/><text x="482" y="163.5" font-size="7" fill="#222">x</text>
<line x1="492" y1="161" x2="512" y2="161" stroke="#4a7ab8" stroke-width="1.3" stroke-dasharray="4,3"/><text x="514" y="163.5" font-size="7" fill="#222">MTCA(x)</text>
<line x1="553" y1="161" x2="573" y2="161" stroke="#4a7ab8" stroke-width="1"/><text x="574" y="163.5" font-size="7" fill="#222">VME(x)</text>
<circle cx="618" cy="161" r="1.8" fill="#ee1010"/><text x="629" y="163.5" font-size="7" fill="#222">y</text>
<line x1="640" y1="161" x2="660" y2="161" stroke="#e02020" stroke-width="1.3" stroke-dasharray="4,3"/><text x="662" y="163.5" font-size="7" fill="#222">MTCA(y)</text>
<line x1="701" y1="161" x2="721" y2="161" stroke="#e02020" stroke-width="1"/><text x="722" y="163.5" font-size="7" fill="#222">VME(y)</text>
<g font-size="6.5" fill="#333" text-anchor="end">
<text x="480" y="181.5">110</text><text x="480" y="196.2">100</text><text x="480" y="211">90</text><text x="480" y="225.7">80</text><text x="480" y="240.5">70</text><text x="480" y="255.2">60</text><text x="480" y="270">50</text><text x="480" y="284.7">40</text><text x="480" y="299.5">30</text>
</g>
<g font-size="6.5" fill="#333" text-anchor="middle">
<text x="486" y="311">-3</text><text x="508.5" y="311">-2,5</text><text x="531.1" y="311">-2</text><text x="553.7" y="311">-1,5</text><text x="576.3" y="311">-1</text><text x="598.9" y="311">-0,5</text><text x="621.5" y="311">0</text><text x="644.1" y="311">0,5</text><text x="666.7" y="311">1</text><text x="689.3" y="311">1,5</text><text x="711.9" y="311">2</text><text x="734.5" y="311">2,5</text><text x="757" y="311">3</text>
</g>
<text x="621" y="327" font-size="7.5" font-weight="bold" fill="#222" text-anchor="middle">BPM-B (mm)</text>
<text x="733" y="292" font-size="10" font-weight="bold" fill="#222" text-anchor="middle">C2H1</text>
<text transform="translate(453,238) rotate(-90)" font-size="7.5" font-weight="bold" fill="#222" text-anchor="middle">E<tspan font-size="5" dy="1.5">RMS</tspan><tspan dy="-1.5"> (μm)</tspan></text>
<circle cx="607" cy="385" r="0.6" fill="#444"/>
<!-- Fig 18 -->
<rect x="439" y="398" width="329" height="190" fill="#fff" stroke="#bbb" stroke-width="0.8"/>
<g stroke="#bbb" stroke-width="0.5" stroke-dasharray="1.5,1.5">
<line x1="486" y1="428" x2="757" y2="428"/><line x1="486" y1="442.75" x2="757" y2="442.75"/><line x1="486" y1="457.5" x2="757" y2="457.5"/><line x1="486" y1="472.25" x2="757" y2="472.25"/><line x1="486" y1="487" x2="757" y2="487"/><line x1="486" y1="501.75" x2="757" y2="501.75"/><line x1="486" y1="516.5" x2="757" y2="516.5"/><line x1="486" y1="531.25" x2="757" y2="531.25"/>
<line x1="508.5" y1="428" x2="508.5" y2="546"/><line x1="531.1" y1="428" x2="531.1" y2="546"/><line x1="553.7" y1="428" x2="553.7" y2="546"/><line x1="576.3" y1="428" x2="576.3" y2="546"/><line x1="598.9" y1="428" x2="598.9" y2="546"/><line x1="621.5" y1="428" x2="621.5" y2="546"/><line x1="644.1" y1="428" x2="644.1" y2="546"/><line x1="666.7" y1="428" x2="666.7" y2="546"/><line x1="689.3" y1="428" x2="689.3" y2="546"/><line x1="711.9" y1="428" x2="711.9" y2="546"/><line x1="734.5" y1="428" x2="734.5" y2="546"/><line x1="757" y1="428" x2="757" y2="546"/>
</g>
<line x1="486" y1="546" x2="757" y2="546" stroke="#777" stroke-width="0.6"/><line x1="486" y1="428" x2="486" y2="546" stroke="#777" stroke-width="0.6"/>
<line x1="486" y1="448.65" x2="757" y2="448.65" stroke="#e02020" stroke-width="1.4" stroke-dasharray="5,4"/>
<line x1="486" y1="457.5" x2="757" y2="457.5" stroke="#9bb5d8" stroke-width="1"/>
<line x1="486" y1="460.45" x2="757" y2="460.45" stroke="#4a7ab8" stroke-width="1.4" stroke-dasharray="5,4"/>
<line x1="486" y1="472.25" x2="757" y2="472.25" stroke="#e02020" stroke-width="1"/>
<g fill="#ee1010"><circle cx="504" cy="510.6" r="2"/><circle cx="544.7" cy="436.9" r="2"/><circle cx="546.9" cy="472.25" r="2"/><circle cx="549.2" cy="495.9" r="2"/><circle cx="571.8" cy="451.6" r="2"/></g>
<g fill="#3a66b0"><circle cx="609.3" cy="522.4" r="2"/><circle cx="657.7" cy="504.7" r="2"/><circle cx="682.5" cy="495.85" r="2"/><circle cx="705.1" cy="487" r="2"/><circle cx="728.6" cy="489.95" r="2"/></g>
<rect x="455" y="403" width="296" height="15" fill="#fff" stroke="#888" stroke-width="0.6"/>
<circle cx="471" cy="410.5" r="1.8" fill="#3a66b0"/><text x="482" y="413" font-size="7" fill="#222">x</text>
<line x1="492" y1="410.5" x2="512" y2="410.5" stroke="#4a7ab8" stroke-width="1.3" stroke-dasharray="4,3"/><text x="514" y="413" font-size="7" fill="#222">MTCA(x)</text>
<line x1="553" y1="410.5" x2="573" y2="410.5" stroke="#4a7ab8" stroke-width="1"/><text x="574" y="413" font-size="7" fill="#222">VME(x)</text>
<circle cx="618" cy="410.5" r="1.8" fill="#ee1010"/><text x="629" y="413" font-size="7" fill="#222">y</text>
<line x1="640" y1="410.5" x2="660" y2="410.5" stroke="#e02020" stroke-width="1.3" stroke-dasharray="4,3"/><text x="662" y="413" font-size="7" fill="#222">MTCA(y)</text>
<line x1="701" y1="410.5" x2="721" y2="410.5" stroke="#e02020" stroke-width="1"/><text x="722" y="413" font-size="7" fill="#222">VME(y)</text>
<g font-size="6.5" fill="#333" text-anchor="end">
<text x="480" y="430.5">60</text><text x="480" y="445.2">55</text><text x="480" y="460">50</text><text x="480" y="474.7">45</text><text x="480" y="489.5">40</text><text x="480" y="504.2">35</text><text x="480" y="519">30</text><text x="480" y="533.7">25</text><text x="480" y="548.5">20</text>
</g>
<g font-size="6.5" fill="#333" text-anchor="middle">
<text x="486" y="560">-3</text><text x="508.5" y="560">-2,5</text><text x="531.1" y="560">-2</text><text x="553.7" y="560">-1,5</text><text x="576.3" y="560">-1</text><text x="598.9" y="560">-0,5</text><text x="621.5" y="560">0</text><text x="644.1" y="560">0,5</text><text x="666.7" y="560">1</text><text x="689.3" y="560">1,5</text><text x="711.9" y="560">2</text><text x="734.5" y="560">2,5</text><text x="757" y="560">3</text>
</g>
<text x="621" y="575" font-size="7.5" font-weight="bold" fill="#222" text-anchor="middle">BPM-B (mm)</text>
<text x="733" y="540" font-size="10" font-weight="bold" fill="#222" text-anchor="middle">C3H1</text>
<text transform="translate(453,487) rotate(-90)" font-size="7.5" font-weight="bold" fill="#222" text-anchor="middle">E<tspan font-size="5" dy="1.5">RMS</tspan><tspan dy="-1.5"> (μm)</tspan></text>
</svg>

<div class="t" style="left:82px;top:626px">
<div>Figure 15: Measured (blue) and predicted (red) beam</div>
<div>positions in the three cavities C1 to C3.</div>
</div>
<div class="t" style="left:82px;top:684px">
<div class="j i">Fig. 16 to Fig. 18 show the resolution results taken with</div>
<div class="j">a hundred beam pulses with the MTCA for the selected</div>
<div class="j">beam positions shown in Fig. 13. The dashed lines</div>
<div class="j">indicate the MTCA resolution in a global sense using a</div>
<div class="j">cross-validation technique [5]. The solid lines are results</div>
<div>from the VME digitizers.</div>
</div>
<div class="t c" style="left:82px;top:1006px"><div>Figure 16: Position resolution of x and y in C1.</div></div>

<div class="t c" style="left:439px;top:348px"><div>Figure 17: Position resolution of x and y in C2.</div></div>
<div class="t c" style="left:439px;top:597px"><div>Figure 18: Position resolution of x and y in C3..</div></div>
<div class="t" style="left:439px;top:638px">
<div class="j i">The reached resolution with both digitizers is similar.</div>
<div class="j">But it has to be considered that the VME digitizer works</div>
<div class="j">with 216MS/s and the MTCA with 108MS/s which means</div>
<div class="j">an undersampling of the used 70MHz.&nbsp; The resolution</div>
<div class="j">obtained for several beam positions is in general better</div>
<div>than the global resolution.</div>
</div>
<div class="h" style="left:439px;top:755px">CONCLUSIONS</div>
<div class="t" style="left:439px;top:778px">
<div class="j i">The MTCA SIS8300 digitizer card is a reasonable</div>
<div class="j">alternative to the VME digitizer. The resolution in this</div>
<div class="j">application is nearby the same although the&nbsp; sampling rate</div>
<div>of the MTCA causes an undersampling.</div>
</div>
<div class="h" style="left:439px;top:862px">OUTLOOK</div>
<div class="t" style="left:439px;top:885px">
<div class="j i">A downconverter with an IF of 30MHz is currently</div>
<div class="j">built by FNAL in order to avoid undersampling. This will</div>
<div class="j">be installed at FLASH. A MTCA-based digitizer card</div>
<div class="j">with a higher sampling rate (500Ms/s), under</div>
<div>development at DESY, is considered for the XFEL.</div>
</div>
<div class="h" style="left:439px;top:985px">REFERENCES</div>
<div style="position:absolute;left:439px;top:1007.5px;width:336px;font:12.7px/14.8px 'Liberation Serif',serif;color:#111">
<div><span style="display:inline-block;width:25px">[1]</span>S. Schreiber, et al., IPAC12, TUPPP052</div>
<div><span style="display:inline-block;width:25px">[2]</span>P. Zhang, et al., Rev. Sci. Instrum. 83, 085117(2012)</div>
<div><span style="display:inline-block;width:25px">[3]</span>N. Baboi, et al., SRF2011, MOPO060</div>
<div><span style="display:inline-block;width:25px">[4]</span>N. Baboi, this conference, TUPA16</div>
<div><span style="display:inline-block;width:25px">[5]</span>P. Zhang, et al., DESY12-143, 2012</div>
<div><span style="display:inline-block;width:25px">[6]</span>B. Lorbeer, et al., this conference, TUPA19</div>
</div>
</div>

</body></html>
